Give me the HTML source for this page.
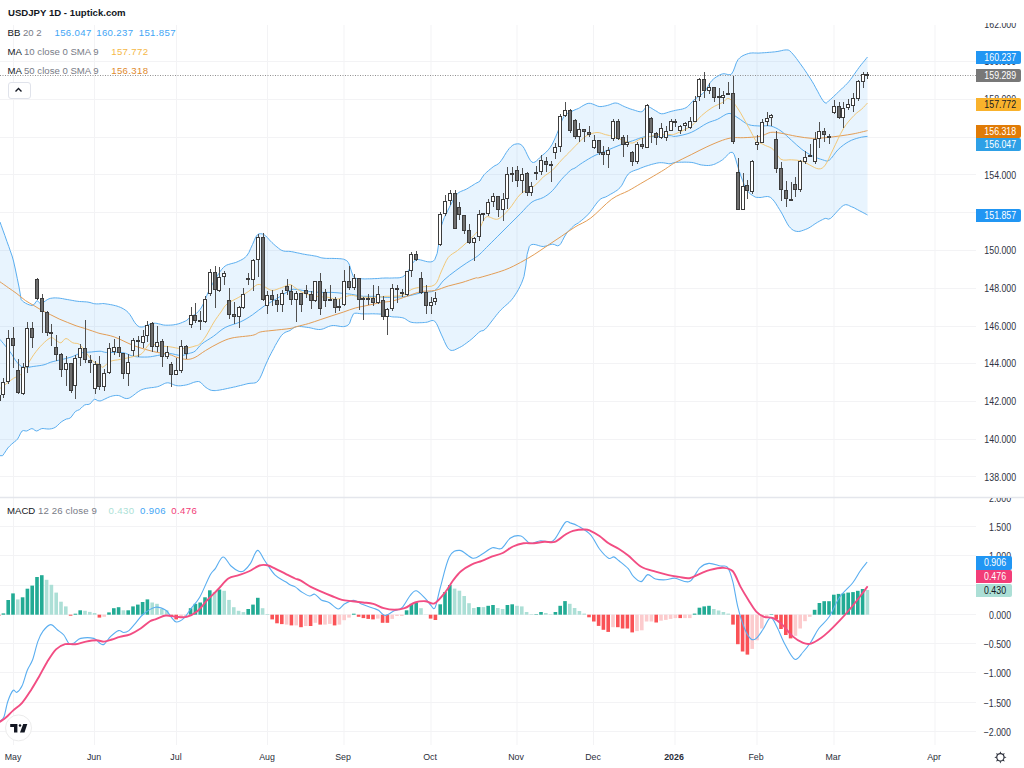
<!DOCTYPE html><html><head><meta charset="utf-8"><style>
html,body{margin:0;padding:0;background:#fff;width:1024px;height:768px;overflow:hidden}
body{position:relative;font-family:"Liberation Sans",sans-serif}
svg{position:absolute;left:0;top:0}
.t{position:absolute;white-space:nowrap;line-height:1}
</style></head><body>
<svg width="1024" height="768" viewBox="0 0 1024 768">
<line x1="13.5" y1="25" x2="13.5" y2="745" stroke="#f3f3f5" stroke-width="1"/>
<line x1="94.5" y1="25" x2="94.5" y2="745" stroke="#f3f3f5" stroke-width="1"/>
<line x1="176.5" y1="25" x2="176.5" y2="745" stroke="#f3f3f5" stroke-width="1"/>
<line x1="267.5" y1="25" x2="267.5" y2="745" stroke="#f3f3f5" stroke-width="1"/>
<line x1="344" y1="25" x2="344" y2="745" stroke="#f3f3f5" stroke-width="1"/>
<line x1="431" y1="25" x2="431" y2="745" stroke="#f3f3f5" stroke-width="1"/>
<line x1="517" y1="25" x2="517" y2="745" stroke="#f3f3f5" stroke-width="1"/>
<line x1="593.5" y1="25" x2="593.5" y2="745" stroke="#f3f3f5" stroke-width="1"/>
<line x1="675" y1="25" x2="675" y2="745" stroke="#f3f3f5" stroke-width="1"/>
<line x1="757" y1="25" x2="757" y2="745" stroke="#f3f3f5" stroke-width="1"/>
<line x1="834" y1="25" x2="834" y2="745" stroke="#f3f3f5" stroke-width="1"/>
<line x1="935" y1="25" x2="935" y2="745" stroke="#f3f3f5" stroke-width="1"/>
<line x1="0" y1="476.5" x2="976" y2="476.5" stroke="#f3f3f5" stroke-width="1"/>
<line x1="0" y1="439.5" x2="976" y2="439.5" stroke="#f3f3f5" stroke-width="1"/>
<line x1="0" y1="401.5" x2="976" y2="401.5" stroke="#f3f3f5" stroke-width="1"/>
<line x1="0" y1="363.5" x2="976" y2="363.5" stroke="#f3f3f5" stroke-width="1"/>
<line x1="0" y1="326.5" x2="976" y2="326.5" stroke="#f3f3f5" stroke-width="1"/>
<line x1="0" y1="288.5" x2="976" y2="288.5" stroke="#f3f3f5" stroke-width="1"/>
<line x1="0" y1="250.5" x2="976" y2="250.5" stroke="#f3f3f5" stroke-width="1"/>
<line x1="0" y1="212.5" x2="976" y2="212.5" stroke="#f3f3f5" stroke-width="1"/>
<line x1="0" y1="174.5" x2="976" y2="174.5" stroke="#f3f3f5" stroke-width="1"/>
<line x1="0" y1="137.5" x2="976" y2="137.5" stroke="#f3f3f5" stroke-width="1"/>
<line x1="0" y1="99.5" x2="976" y2="99.5" stroke="#f3f3f5" stroke-width="1"/>
<line x1="0" y1="61.5" x2="976" y2="61.5" stroke="#f3f3f5" stroke-width="1"/>
<line x1="0" y1="731.5" x2="976" y2="731.5" stroke="#f3f3f5" stroke-width="1"/>
<line x1="0" y1="702.5" x2="976" y2="702.5" stroke="#f3f3f5" stroke-width="1"/>
<line x1="0" y1="672.5" x2="976" y2="672.5" stroke="#f3f3f5" stroke-width="1"/>
<line x1="0" y1="643.5" x2="976" y2="643.5" stroke="#f3f3f5" stroke-width="1"/>
<line x1="0" y1="614.5" x2="976" y2="614.5" stroke="#f3f3f5" stroke-width="1"/>
<line x1="0" y1="585.5" x2="976" y2="585.5" stroke="#f3f3f5" stroke-width="1"/>
<line x1="0" y1="555.5" x2="976" y2="555.5" stroke="#f3f3f5" stroke-width="1"/>
<line x1="0" y1="526.5" x2="976" y2="526.5" stroke="#f3f3f5" stroke-width="1"/>
<line x1="0" y1="497.5" x2="976" y2="497.5" stroke="#f3f3f5" stroke-width="1"/>
<defs><clipPath id="cp"><rect x="0" y="0" width="976" height="497"/></clipPath>
<clipPath id="cm"><rect x="0" y="498" width="976" height="247"/></clipPath></defs>
<g clip-path="url(#cp)">
<path d="M0.0,222.0 L1.2,225.3 L2.9,230.1 L4.9,235.6 L6.9,241.4 L8.8,246.6 L10.2,250.6 L12.1,256.0 L13.5,261.0 L15.3,269.0 L17.3,278.7 L19.0,287.0 L21.2,299.6 L22.4,300.9 L23.8,302.1 L25.6,303.2 L27.4,304.1 L29.2,304.8 L30.8,305.3 L32.1,305.5 L34.3,304.3 L35.8,302.0 L37.2,300.5 L38.7,302.2 L40.6,303.8 L42.0,303.3 L43.6,302.2 L45.4,300.9 L47.2,299.7 L49.0,298.8 L50.7,298.3 L52.3,298.1 L54.0,297.9 L55.7,297.9 L57.5,298.0 L59.1,298.1 L60.8,298.4 L62.5,298.6 L64.2,299.0 L66.0,299.3 L67.7,299.6 L69.4,299.9 L71.1,300.2 L72.8,300.5 L74.4,300.8 L76.1,301.1 L77.8,301.3 L79.5,301.5 L81.3,301.6 L83.1,301.7 L84.8,301.8 L86.5,301.9 L88.0,302.1 L90.0,302.5 L91.7,303.0 L93.3,303.5 L94.8,303.8 L96.7,303.9 L98.4,303.9 L100.0,303.8 L101.3,303.7 L102.6,303.5 L104.8,303.7 L105.9,303.9 L107.3,304.1 L108.8,304.3 L110.4,304.6 L112.1,304.9 L113.8,305.3 L115.5,305.7 L117.0,306.1 L118.4,306.6 L120.3,307.3 L122.0,308.1 L123.7,309.0 L125.2,310.0 L126.7,311.1 L128.2,312.5 L129.9,314.6 L131.6,317.2 L133.1,319.9 L134.6,322.3 L136.0,324.2 L137.9,326.0 L139.6,326.9 L141.9,327.0 L143.3,326.8 L144.8,326.2 L146.5,325.5 L148.3,324.8 L150.1,324.1 L151.9,323.5 L153.6,323.2 L155.3,323.2 L156.9,323.4 L158.6,323.8 L160.3,324.2 L162.0,324.7 L163.6,325.0 L165.3,325.2 L167.0,325.2 L168.7,325.2 L170.4,325.1 L172.1,325.0 L173.8,324.8 L175.4,324.5 L177.0,324.2 L178.8,323.7 L180.6,323.1 L182.4,322.4 L184.0,321.7 L185.5,321.0 L186.8,320.3 L189.1,318.2 L190.7,316.4 L192.7,315.7 L195.0,314.5 L196.5,313.3 L198.1,311.7 L199.9,309.7 L201.7,307.0 L203.2,304.1 L204.7,300.5 L206.3,296.7 L207.9,292.9 L209.5,289.5 L211.1,286.5 L212.6,283.6 L214.2,280.8 L215.7,278.2 L217.3,275.8 L218.8,273.5 L220.3,271.3 L221.8,269.3 L223.4,267.5 L225.2,266.0 L226.7,265.1 L228.3,264.5 L230.1,264.0 L231.8,263.5 L233.6,263.1 L235.3,262.6 L236.9,262.0 L238.7,261.2 L240.4,260.4 L242.1,259.5 L243.7,258.5 L245.2,257.3 L246.6,256.0 L248.9,252.5 L250.7,248.4 L252.5,244.5 L254.1,240.8 L255.7,237.2 L257.4,234.8 L258.9,233.9 L260.6,233.7 L262.4,234.0 L264.2,234.8 L265.7,235.9 L267.2,237.4 L268.7,239.1 L270.3,240.9 L272.0,242.6 L273.5,244.0 L275.2,245.5 L276.9,246.9 L278.6,248.3 L280.2,249.5 L281.8,250.4 L283.6,251.0 L285.4,251.3 L287.0,251.3 L288.6,251.3 L290.0,251.4 L291.7,251.7 L293.0,251.9 L294.8,252.3 L296.1,252.6 L297.6,252.9 L299.2,253.2 L300.9,253.6 L302.7,254.0 L304.5,254.3 L306.1,254.6 L307.8,254.9 L309.6,255.1 L311.4,255.4 L313.1,255.7 L314.8,256.0 L316.2,256.2 L317.9,256.7 L319.1,257.1 L320.2,257.5 L321.8,257.9 L324.0,258.2 L325.2,258.3 L326.5,258.4 L328.0,258.4 L329.6,258.4 L331.3,258.4 L333.0,258.4 L334.8,258.5 L336.5,258.5 L338.2,258.6 L339.8,258.7 L341.2,258.8 L342.5,259.0 L343.6,259.2 L346.7,260.6 L348.2,262.4 L349.5,265.0 L351.3,271.1 L353.4,276.8 L354.6,277.8 L356.1,278.4 L357.6,278.6 L359.3,278.6 L361.2,278.7 L362.7,278.8 L364.2,278.9 L365.9,278.9 L367.7,278.8 L369.4,278.8 L371.2,278.8 L372.9,278.7 L374.4,278.6 L376.0,278.6 L377.7,278.5 L379.3,278.4 L380.9,278.2 L382.4,278.1 L383.8,278.1 L385.0,278.0 L386.9,278.0 L388.2,278.0 L389.6,278.1 L391.4,278.0 L392.8,278.0 L394.4,277.9 L396.2,277.9 L398.0,277.9 L399.7,277.7 L401.4,277.3 L402.8,276.8 L404.8,275.3 L406.5,273.3 L408.0,271.0 L409.6,268.8 L411.0,266.4 L412.3,263.7 L413.9,261.4 L416.4,259.7 L417.6,259.5 L418.9,259.6 L420.4,259.9 L422.1,260.3 L423.8,260.8 L425.5,261.3 L427.3,261.7 L429.0,261.9 L430.7,261.9 L432.2,261.6 L433.5,260.9 L434.7,259.7 L437.2,253.3 L438.7,243.9 L439.9,234.0 L441.5,225.6 L442.9,221.3 L444.4,217.4 L446.1,213.9 L447.7,210.7 L449.2,207.7 L450.6,205.0 L452.4,201.4 L454.0,198.4 L455.6,195.8 L457.4,193.7 L458.8,192.5 L460.3,191.7 L461.9,191.0 L463.5,190.4 L465.0,189.8 L466.6,189.0 L468.2,188.1 L469.8,187.1 L471.5,186.1 L473.0,185.1 L474.5,184.2 L475.7,183.4 L478.2,182.2 L480.0,181.0 L481.7,178.2 L484.1,174.7 L485.4,173.4 L486.8,172.1 L488.5,170.6 L490.2,169.2 L491.8,167.9 L493.2,166.8 L495.0,165.6 L496.6,164.9 L498.2,163.9 L500.0,162.2 L501.4,160.3 L503.0,158.0 L504.6,155.3 L506.2,152.7 L507.8,150.4 L509.2,148.5 L511.1,146.6 L512.8,145.2 L514.4,144.4 L516.0,144.0 L517.6,143.8 L519.2,143.9 L520.9,144.6 L522.8,146.3 L524.2,148.4 L525.7,151.4 L527.3,154.8 L528.9,158.0 L530.5,160.6 L532.0,162.2 L533.5,162.5 L535.0,162.0 L536.5,160.9 L538.0,159.5 L539.5,157.9 L541.0,156.5 L542.5,155.2 L544.1,153.9 L545.7,152.5 L547.3,150.9 L548.8,149.2 L550.2,147.4 L552.1,144.4 L553.8,141.0 L555.4,137.5 L557.0,133.7 L558.7,129.4 L560.4,124.6 L562.1,120.1 L563.8,116.6 L565.6,114.5 L567.4,113.4 L569.2,112.7 L570.7,112.0 L573.1,110.7 L575.0,109.8 L576.3,109.3 L578.3,108.5 L579.6,107.8 L581.3,106.7 L583.1,105.6 L585.0,104.6 L586.9,103.7 L588.8,103.3 L590.5,103.4 L592.3,103.9 L594.1,104.6 L595.9,105.4 L597.6,106.1 L599.2,106.5 L601.0,106.6 L602.7,106.4 L604.3,106.1 L605.9,105.8 L607.5,105.4 L609.2,104.9 L610.8,104.3 L612.5,103.6 L614.1,103.1 L615.8,103.0 L617.5,103.3 L619.2,104.0 L620.8,104.8 L622.5,105.7 L624.2,106.5 L625.8,107.2 L627.5,107.8 L629.1,108.5 L630.8,109.1 L632.5,109.6 L634.1,110.1 L635.7,110.6 L637.4,111.2 L639.0,111.6 L640.6,111.8 L641.9,111.7 L643.8,110.2 L645.3,107.8 L647.1,106.5 L648.6,106.7 L650.3,107.5 L652.1,108.6 L653.8,109.7 L655.4,110.6 L657.1,111.6 L658.5,112.6 L660.0,113.4 L661.7,113.8 L663.3,113.7 L665.0,113.3 L666.8,112.7 L668.5,112.2 L670.0,111.7 L671.9,111.2 L673.5,110.8 L675.6,110.3 L677.1,110.0 L678.8,109.7 L680.7,109.4 L682.5,109.0 L684.4,108.4 L686.0,107.7 L687.7,106.5 L689.2,105.0 L690.7,103.3 L692.2,101.6 L693.9,100.0 L695.5,98.7 L697.3,97.5 L699.1,96.2 L700.9,94.9 L702.7,93.5 L704.3,92.0 L706.0,89.8 L707.4,87.4 L708.8,84.8 L710.3,82.5 L712.0,80.4 L713.4,79.1 L714.8,78.0 L716.4,76.9 L718.0,76.0 L719.5,75.1 L721.0,74.4 L722.5,73.9 L724.1,73.7 L725.7,74.0 L727.3,74.4 L728.8,74.7 L730.2,74.7 L731.6,73.9 L733.3,71.1 L734.8,67.1 L736.3,62.8 L738.1,59.5 L739.6,58.0 L741.2,56.7 L743.0,55.6 L744.8,54.8 L746.7,54.1 L748.5,53.5 L750.0,53.1 L751.6,53.0 L753.1,52.9 L754.7,53.0 L756.4,53.0 L758.1,53.1 L760.0,53.0 L761.4,52.9 L763.0,52.8 L764.6,52.7 L766.3,52.6 L768.0,52.4 L769.7,52.3 L771.3,52.2 L772.9,52.0 L774.4,51.9 L775.8,51.7 L777.9,51.4 L779.9,51.0 L781.7,50.6 L783.4,50.2 L784.9,50.0 L786.2,49.9 L788.2,50.0 L789.6,50.7 L791.5,52.5 L792.9,54.1 L794.6,56.1 L796.4,58.4 L798.2,60.9 L800.1,63.5 L801.9,66.0 L803.6,68.4 L805.3,70.9 L807.0,73.4 L808.7,76.0 L810.5,78.8 L812.3,81.7 L814.0,84.6 L815.7,87.8 L817.6,91.2 L819.4,94.6 L821.1,97.7 L822.7,100.2 L824.0,102.0 L826.1,103.3 L827.4,102.2 L829.2,100.4 L830.5,99.4 L831.9,98.2 L833.4,96.7 L835.0,95.2 L836.7,93.6 L838.3,92.0 L840.0,90.4 L841.7,88.9 L843.4,87.2 L845.2,85.5 L847.0,83.7 L848.8,81.7 L850.5,79.5 L852.3,77.1 L854.1,74.5 L855.9,71.9 L857.6,69.5 L859.2,67.3 L861.1,64.8 L863.1,62.4 L864.9,60.2 L866.4,58.3 L867.5,57.0 L867.5,215.0 L866.4,214.4 L864.8,213.5 L862.9,212.5 L861.0,211.5 L859.2,210.6 L857.6,209.7 L856.0,208.9 L854.5,208.0 L853.0,207.3 L851.4,206.7 L849.9,206.0 L848.5,205.3 L847.0,204.8 L845.4,204.7 L843.5,205.4 L842.1,206.4 L840.4,207.9 L838.7,209.8 L836.8,211.8 L835.0,213.8 L833.3,215.7 L831.8,217.3 L830.5,218.4 L828.3,219.2 L826.9,218.6 L825.3,218.4 L823.9,218.9 L822.5,219.6 L820.9,220.4 L819.3,221.3 L817.5,222.3 L815.9,223.3 L814.2,224.4 L812.5,225.6 L810.7,226.8 L808.9,227.9 L807.1,228.8 L805.3,229.5 L803.5,230.2 L801.7,230.8 L800.0,231.3 L798.3,231.5 L796.7,231.4 L795.0,231.0 L793.4,230.3 L791.9,229.3 L790.4,227.9 L788.9,226.2 L787.4,223.9 L785.9,221.1 L784.3,218.1 L782.7,214.9 L781.0,211.9 L779.4,209.3 L777.7,206.6 L776.0,203.8 L774.2,201.2 L772.4,199.1 L770.6,197.5 L769.1,196.8 L767.5,196.5 L765.8,196.6 L764.2,196.8 L762.7,197.2 L761.3,197.4 L760.0,197.5 L758.2,197.4 L756.7,197.4 L755.3,197.1 L753.8,196.2 L752.3,195.3 L750.7,194.2 L749.1,192.8 L747.5,190.9 L745.9,188.4 L744.3,184.9 L742.6,180.6 L740.9,176.0 L739.4,171.5 L738.1,167.6 L735.9,159.9 L734.2,154.6 L732.5,152.3 L730.3,152.5 L729.0,153.4 L727.6,154.8 L726.0,156.6 L724.3,158.3 L722.5,159.8 L721.1,160.7 L719.7,161.6 L718.2,162.4 L716.6,163.2 L715.1,164.0 L713.5,164.5 L712.0,165.0 L710.3,165.3 L708.6,165.5 L706.8,165.5 L705.1,165.4 L703.4,165.2 L701.7,165.0 L700.0,164.7 L698.4,164.2 L696.8,163.7 L695.1,163.2 L693.3,162.7 L691.2,162.4 L689.9,162.3 L688.3,162.2 L686.6,162.2 L684.9,162.1 L683.1,162.2 L681.4,162.2 L679.7,162.2 L678.2,162.3 L676.8,162.3 L675.6,162.4 L673.2,162.8 L671.9,163.4 L670.0,163.8 L668.6,163.7 L667.0,163.4 L665.2,163.1 L663.4,162.8 L661.5,162.7 L659.6,162.7 L658.1,162.9 L656.5,163.2 L654.9,163.6 L653.2,164.0 L651.6,164.4 L650.0,164.9 L648.5,165.4 L647.1,165.8 L645.2,166.4 L643.6,167.0 L642.0,167.6 L640.5,168.2 L638.8,169.0 L637.1,169.6 L635.3,170.2 L633.5,170.8 L631.7,171.6 L629.9,172.6 L628.3,174.0 L626.6,176.3 L625.0,179.1 L623.5,182.2 L621.9,185.2 L620.0,187.7 L618.6,189.0 L617.1,190.3 L615.4,191.4 L613.8,192.4 L612.1,193.4 L610.4,194.3 L608.9,195.2 L607.5,196.0 L605.6,197.0 L604.0,197.5 L602.5,198.0 L600.9,198.8 L599.2,200.2 L597.6,202.0 L595.9,204.2 L594.1,206.7 L592.3,209.2 L590.5,211.6 L588.8,213.8 L586.9,215.6 L585.0,217.4 L583.1,219.1 L581.3,220.6 L579.6,221.9 L578.3,223.0 L576.6,223.9 L575.0,224.8 L573.5,226.1 L571.7,227.8 L569.8,229.8 L567.8,231.9 L566.1,234.0 L564.3,237.0 L562.6,240.3 L561.0,243.3 L559.3,245.3 L557.6,245.8 L556.0,245.3 L554.3,244.5 L552.4,244.2 L551.1,244.4 L549.7,244.8 L548.3,245.3 L546.8,245.8 L545.1,246.2 L543.3,246.5 L541.9,246.4 L540.4,246.1 L538.7,245.6 L536.9,245.0 L535.2,244.6 L533.5,244.4 L531.9,244.5 L530.5,245.2 L529.3,246.5 L527.1,254.6 L525.8,266.0 L524.0,276.4 L522.8,279.9 L521.5,283.3 L520.0,286.4 L518.5,289.4 L516.9,292.2 L515.2,294.8 L513.5,297.4 L512.1,299.2 L510.6,300.9 L509.1,302.5 L507.5,303.9 L505.9,305.3 L504.3,306.7 L502.7,308.2 L501.1,309.7 L499.5,311.4 L497.9,313.3 L496.2,315.4 L494.5,317.6 L492.8,319.8 L491.1,322.0 L489.5,324.1 L488.0,326.0 L486.6,327.7 L485.4,329.0 L483.1,330.7 L481.7,330.8 L480.0,331.5 L478.5,332.7 L476.8,334.3 L475.0,336.0 L473.1,337.8 L471.1,339.5 L469.6,340.7 L468.0,341.9 L466.3,343.2 L464.6,344.4 L462.9,345.6 L461.3,346.6 L459.7,347.4 L457.9,348.3 L456.1,349.2 L454.4,350.0 L452.7,350.4 L451.1,350.4 L449.5,349.7 L447.7,347.8 L446.1,345.0 L444.5,341.6 L443.0,338.1 L441.5,334.9 L439.8,331.0 L438.2,327.1 L436.5,323.6 L434.7,321.2 L433.4,320.6 L432.0,320.5 L430.6,320.9 L429.1,321.5 L427.4,322.1 L425.6,322.4 L424.3,322.5 L422.8,322.6 L421.2,322.7 L419.6,322.7 L417.9,322.8 L416.3,322.8 L414.7,322.7 L413.2,322.6 L411.9,322.4 L410.1,321.9 L408.6,321.1 L407.2,320.2 L405.8,319.2 L404.4,318.4 L402.8,317.8 L401.2,317.5 L399.6,317.3 L397.8,317.1 L396.1,317.0 L394.4,317.0 L392.8,316.9 L391.4,316.7 L389.5,316.3 L388.0,315.7 L386.6,315.2 L385.0,314.8 L383.6,314.5 L382.1,314.3 L380.6,314.1 L378.8,314.0 L376.8,313.9 L375.5,313.9 L374.0,313.8 L372.5,313.8 L370.9,313.8 L369.2,313.9 L367.6,313.9 L366.0,313.9 L364.5,313.9 L363.1,313.9 L361.2,313.8 L359.4,313.5 L357.6,313.3 L356.1,313.2 L354.6,313.3 L353.4,313.9 L351.2,318.6 L349.5,323.6 L347.9,325.2 L346.1,326.1 L343.6,326.6 L342.2,326.6 L340.7,326.5 L339.0,326.2 L337.2,325.9 L335.4,325.6 L333.6,325.5 L331.9,325.6 L330.2,326.0 L328.6,326.5 L326.9,327.2 L325.2,328.0 L323.6,328.7 L321.9,329.2 L320.2,329.5 L318.5,329.5 L316.8,329.3 L315.1,329.0 L313.5,328.6 L311.8,328.2 L310.1,327.8 L308.4,327.5 L306.7,327.3 L304.9,327.0 L303.1,326.8 L301.4,326.6 L299.7,326.5 L298.1,326.5 L296.7,326.6 L294.7,327.2 L293.1,328.2 L291.7,329.3 L290.0,330.5 L288.4,331.2 L286.8,331.7 L285.1,332.4 L283.4,333.6 L281.5,335.4 L280.1,337.4 L278.5,339.9 L276.9,342.7 L275.2,345.6 L273.7,348.6 L272.2,351.3 L271.0,353.6 L269.0,357.4 L267.7,360.3 L266.0,364.0 L264.6,367.2 L263.1,371.0 L261.5,374.9 L259.8,378.4 L258.0,381.0 L256.5,382.3 L255.0,382.9 L253.5,383.1 L251.9,383.2 L250.0,383.3 L248.0,383.6 L246.7,383.9 L245.2,384.3 L243.7,384.7 L242.1,385.1 L240.5,385.5 L238.8,385.9 L237.1,386.3 L235.4,386.8 L233.7,387.1 L232.0,387.5 L230.5,387.8 L229.0,388.1 L227.4,388.5 L225.8,388.8 L224.1,389.2 L222.5,389.5 L220.9,389.8 L219.3,390.1 L217.8,390.3 L216.4,390.5 L215.2,390.6 L214.0,390.6 L211.7,390.4 L210.0,389.9 L208.6,389.2 L207.3,388.4 L206.0,387.5 L204.3,386.2 L202.8,384.6 L201.4,383.0 L200.0,382.0 L198.4,381.5 L196.9,381.6 L195.0,382.0 L193.6,382.4 L192.0,383.0 L190.3,383.7 L188.6,384.3 L186.8,384.8 L185.3,385.1 L183.6,385.4 L182.0,385.6 L180.3,385.8 L178.6,385.8 L177.0,385.7 L175.4,385.4 L173.8,384.8 L172.2,384.1 L170.5,383.4 L168.9,382.9 L167.3,382.8 L165.7,383.1 L164.3,383.6 L162.8,384.4 L161.2,385.2 L159.5,386.0 L157.5,386.7 L156.2,387.0 L154.7,387.2 L153.2,387.5 L151.6,387.6 L149.9,387.8 L148.3,388.1 L146.6,388.3 L145.0,388.7 L143.4,389.1 L141.9,389.6 L140.3,390.4 L138.7,391.4 L137.0,392.5 L135.5,393.7 L133.9,395.0 L132.4,396.1 L130.9,397.1 L129.5,397.9 L128.2,398.4 L126.3,398.5 L124.6,398.2 L122.9,397.4 L121.4,396.6 L119.9,395.9 L118.4,395.5 L116.8,395.4 L115.3,395.5 L113.8,395.7 L112.3,396.0 L110.6,396.5 L109.2,397.0 L107.6,397.7 L106.0,398.5 L104.3,399.3 L102.7,400.1 L101.3,400.7 L100.0,401.0 L97.7,400.7 L96.0,399.6 L94.4,399.3 L92.8,400.5 L91.3,402.5 L89.8,404.0 L88.1,404.5 L86.4,404.5 L84.6,405.0 L82.8,406.4 L81.0,408.2 L79.4,409.7 L77.5,410.4 L75.5,411.4 L73.8,413.4 L72.0,416.0 L70.3,418.0 L68.3,418.7 L66.4,419.0 L64.8,419.8 L63.0,420.8 L61.2,422.0 L59.3,423.7 L57.3,425.7 L55.3,427.3 L53.4,428.2 L51.6,428.7 L49.5,429.0 L48.0,429.0 L46.4,428.9 L44.7,428.7 L43.1,428.5 L41.7,428.6 L39.8,429.4 L38.1,430.5 L36.5,431.0 L34.9,430.4 L33.5,429.2 L31.9,428.6 L30.2,429.1 L28.4,430.2 L26.7,431.0 L25.1,430.9 L23.6,430.5 L22.1,431.0 L20.6,433.2 L19.1,436.3 L17.6,439.0 L16.1,440.6 L14.6,441.7 L13.0,443.0 L11.3,444.5 L9.6,446.1 L7.8,448.0 L6.0,450.7 L4.1,453.6 L2.6,455.7 L0.0,455.7 Z" fill="#2196f3" fill-opacity="0.1" stroke="none"/>
<path d="M0.0,222.0 L1.2,225.3 L2.9,230.1 L4.9,235.6 L6.9,241.4 L8.8,246.6 L10.2,250.6 L12.1,256.0 L13.5,261.0 L15.3,269.0 L17.3,278.7 L19.0,287.0 L21.2,299.6 L22.4,300.9 L23.8,302.1 L25.6,303.2 L27.4,304.1 L29.2,304.8 L30.8,305.3 L32.1,305.5 L34.3,304.3 L35.8,302.0 L37.2,300.5 L38.7,302.2 L40.6,303.8 L42.0,303.3 L43.6,302.2 L45.4,300.9 L47.2,299.7 L49.0,298.8 L50.7,298.3 L52.3,298.1 L54.0,297.9 L55.7,297.9 L57.5,298.0 L59.1,298.1 L60.8,298.4 L62.5,298.6 L64.2,299.0 L66.0,299.3 L67.7,299.6 L69.4,299.9 L71.1,300.2 L72.8,300.5 L74.4,300.8 L76.1,301.1 L77.8,301.3 L79.5,301.5 L81.3,301.6 L83.1,301.7 L84.8,301.8 L86.5,301.9 L88.0,302.1 L90.0,302.5 L91.7,303.0 L93.3,303.5 L94.8,303.8 L96.7,303.9 L98.4,303.9 L100.0,303.8 L101.3,303.7 L102.6,303.5 L104.8,303.7 L105.9,303.9 L107.3,304.1 L108.8,304.3 L110.4,304.6 L112.1,304.9 L113.8,305.3 L115.5,305.7 L117.0,306.1 L118.4,306.6 L120.3,307.3 L122.0,308.1 L123.7,309.0 L125.2,310.0 L126.7,311.1 L128.2,312.5 L129.9,314.6 L131.6,317.2 L133.1,319.9 L134.6,322.3 L136.0,324.2 L137.9,326.0 L139.6,326.9 L141.9,327.0 L143.3,326.8 L144.8,326.2 L146.5,325.5 L148.3,324.8 L150.1,324.1 L151.9,323.5 L153.6,323.2 L155.3,323.2 L156.9,323.4 L158.6,323.8 L160.3,324.2 L162.0,324.7 L163.6,325.0 L165.3,325.2 L167.0,325.2 L168.7,325.2 L170.4,325.1 L172.1,325.0 L173.8,324.8 L175.4,324.5 L177.0,324.2 L178.8,323.7 L180.6,323.1 L182.4,322.4 L184.0,321.7 L185.5,321.0 L186.8,320.3 L189.1,318.2 L190.7,316.4 L192.7,315.7 L195.0,314.5 L196.5,313.3 L198.1,311.7 L199.9,309.7 L201.7,307.0 L203.2,304.1 L204.7,300.5 L206.3,296.7 L207.9,292.9 L209.5,289.5 L211.1,286.5 L212.6,283.6 L214.2,280.8 L215.7,278.2 L217.3,275.8 L218.8,273.5 L220.3,271.3 L221.8,269.3 L223.4,267.5 L225.2,266.0 L226.7,265.1 L228.3,264.5 L230.1,264.0 L231.8,263.5 L233.6,263.1 L235.3,262.6 L236.9,262.0 L238.7,261.2 L240.4,260.4 L242.1,259.5 L243.7,258.5 L245.2,257.3 L246.6,256.0 L248.9,252.5 L250.7,248.4 L252.5,244.5 L254.1,240.8 L255.7,237.2 L257.4,234.8 L258.9,233.9 L260.6,233.7 L262.4,234.0 L264.2,234.8 L265.7,235.9 L267.2,237.4 L268.7,239.1 L270.3,240.9 L272.0,242.6 L273.5,244.0 L275.2,245.5 L276.9,246.9 L278.6,248.3 L280.2,249.5 L281.8,250.4 L283.6,251.0 L285.4,251.3 L287.0,251.3 L288.6,251.3 L290.0,251.4 L291.7,251.7 L293.0,251.9 L294.8,252.3 L296.1,252.6 L297.6,252.9 L299.2,253.2 L300.9,253.6 L302.7,254.0 L304.5,254.3 L306.1,254.6 L307.8,254.9 L309.6,255.1 L311.4,255.4 L313.1,255.7 L314.8,256.0 L316.2,256.2 L317.9,256.7 L319.1,257.1 L320.2,257.5 L321.8,257.9 L324.0,258.2 L325.2,258.3 L326.5,258.4 L328.0,258.4 L329.6,258.4 L331.3,258.4 L333.0,258.4 L334.8,258.5 L336.5,258.5 L338.2,258.6 L339.8,258.7 L341.2,258.8 L342.5,259.0 L343.6,259.2 L346.7,260.6 L348.2,262.4 L349.5,265.0 L351.3,271.1 L353.4,276.8 L354.6,277.8 L356.1,278.4 L357.6,278.6 L359.3,278.6 L361.2,278.7 L362.7,278.8 L364.2,278.9 L365.9,278.9 L367.7,278.8 L369.4,278.8 L371.2,278.8 L372.9,278.7 L374.4,278.6 L376.0,278.6 L377.7,278.5 L379.3,278.4 L380.9,278.2 L382.4,278.1 L383.8,278.1 L385.0,278.0 L386.9,278.0 L388.2,278.0 L389.6,278.1 L391.4,278.0 L392.8,278.0 L394.4,277.9 L396.2,277.9 L398.0,277.9 L399.7,277.7 L401.4,277.3 L402.8,276.8 L404.8,275.3 L406.5,273.3 L408.0,271.0 L409.6,268.8 L411.0,266.4 L412.3,263.7 L413.9,261.4 L416.4,259.7 L417.6,259.5 L418.9,259.6 L420.4,259.9 L422.1,260.3 L423.8,260.8 L425.5,261.3 L427.3,261.7 L429.0,261.9 L430.7,261.9 L432.2,261.6 L433.5,260.9 L434.7,259.7 L437.2,253.3 L438.7,243.9 L439.9,234.0 L441.5,225.6 L442.9,221.3 L444.4,217.4 L446.1,213.9 L447.7,210.7 L449.2,207.7 L450.6,205.0 L452.4,201.4 L454.0,198.4 L455.6,195.8 L457.4,193.7 L458.8,192.5 L460.3,191.7 L461.9,191.0 L463.5,190.4 L465.0,189.8 L466.6,189.0 L468.2,188.1 L469.8,187.1 L471.5,186.1 L473.0,185.1 L474.5,184.2 L475.7,183.4 L478.2,182.2 L480.0,181.0 L481.7,178.2 L484.1,174.7 L485.4,173.4 L486.8,172.1 L488.5,170.6 L490.2,169.2 L491.8,167.9 L493.2,166.8 L495.0,165.6 L496.6,164.9 L498.2,163.9 L500.0,162.2 L501.4,160.3 L503.0,158.0 L504.6,155.3 L506.2,152.7 L507.8,150.4 L509.2,148.5 L511.1,146.6 L512.8,145.2 L514.4,144.4 L516.0,144.0 L517.6,143.8 L519.2,143.9 L520.9,144.6 L522.8,146.3 L524.2,148.4 L525.7,151.4 L527.3,154.8 L528.9,158.0 L530.5,160.6 L532.0,162.2 L533.5,162.5 L535.0,162.0 L536.5,160.9 L538.0,159.5 L539.5,157.9 L541.0,156.5 L542.5,155.2 L544.1,153.9 L545.7,152.5 L547.3,150.9 L548.8,149.2 L550.2,147.4 L552.1,144.4 L553.8,141.0 L555.4,137.5 L557.0,133.7 L558.7,129.4 L560.4,124.6 L562.1,120.1 L563.8,116.6 L565.6,114.5 L567.4,113.4 L569.2,112.7 L570.7,112.0 L573.1,110.7 L575.0,109.8 L576.3,109.3 L578.3,108.5 L579.6,107.8 L581.3,106.7 L583.1,105.6 L585.0,104.6 L586.9,103.7 L588.8,103.3 L590.5,103.4 L592.3,103.9 L594.1,104.6 L595.9,105.4 L597.6,106.1 L599.2,106.5 L601.0,106.6 L602.7,106.4 L604.3,106.1 L605.9,105.8 L607.5,105.4 L609.2,104.9 L610.8,104.3 L612.5,103.6 L614.1,103.1 L615.8,103.0 L617.5,103.3 L619.2,104.0 L620.8,104.8 L622.5,105.7 L624.2,106.5 L625.8,107.2 L627.5,107.8 L629.1,108.5 L630.8,109.1 L632.5,109.6 L634.1,110.1 L635.7,110.6 L637.4,111.2 L639.0,111.6 L640.6,111.8 L641.9,111.7 L643.8,110.2 L645.3,107.8 L647.1,106.5 L648.6,106.7 L650.3,107.5 L652.1,108.6 L653.8,109.7 L655.4,110.6 L657.1,111.6 L658.5,112.6 L660.0,113.4 L661.7,113.8 L663.3,113.7 L665.0,113.3 L666.8,112.7 L668.5,112.2 L670.0,111.7 L671.9,111.2 L673.5,110.8 L675.6,110.3 L677.1,110.0 L678.8,109.7 L680.7,109.4 L682.5,109.0 L684.4,108.4 L686.0,107.7 L687.7,106.5 L689.2,105.0 L690.7,103.3 L692.2,101.6 L693.9,100.0 L695.5,98.7 L697.3,97.5 L699.1,96.2 L700.9,94.9 L702.7,93.5 L704.3,92.0 L706.0,89.8 L707.4,87.4 L708.8,84.8 L710.3,82.5 L712.0,80.4 L713.4,79.1 L714.8,78.0 L716.4,76.9 L718.0,76.0 L719.5,75.1 L721.0,74.4 L722.5,73.9 L724.1,73.7 L725.7,74.0 L727.3,74.4 L728.8,74.7 L730.2,74.7 L731.6,73.9 L733.3,71.1 L734.8,67.1 L736.3,62.8 L738.1,59.5 L739.6,58.0 L741.2,56.7 L743.0,55.6 L744.8,54.8 L746.7,54.1 L748.5,53.5 L750.0,53.1 L751.6,53.0 L753.1,52.9 L754.7,53.0 L756.4,53.0 L758.1,53.1 L760.0,53.0 L761.4,52.9 L763.0,52.8 L764.6,52.7 L766.3,52.6 L768.0,52.4 L769.7,52.3 L771.3,52.2 L772.9,52.0 L774.4,51.9 L775.8,51.7 L777.9,51.4 L779.9,51.0 L781.7,50.6 L783.4,50.2 L784.9,50.0 L786.2,49.9 L788.2,50.0 L789.6,50.7 L791.5,52.5 L792.9,54.1 L794.6,56.1 L796.4,58.4 L798.2,60.9 L800.1,63.5 L801.9,66.0 L803.6,68.4 L805.3,70.9 L807.0,73.4 L808.7,76.0 L810.5,78.8 L812.3,81.7 L814.0,84.6 L815.7,87.8 L817.6,91.2 L819.4,94.6 L821.1,97.7 L822.7,100.2 L824.0,102.0 L826.1,103.3 L827.4,102.2 L829.2,100.4 L830.5,99.4 L831.9,98.2 L833.4,96.7 L835.0,95.2 L836.7,93.6 L838.3,92.0 L840.0,90.4 L841.7,88.9 L843.4,87.2 L845.2,85.5 L847.0,83.7 L848.8,81.7 L850.5,79.5 L852.3,77.1 L854.1,74.5 L855.9,71.9 L857.6,69.5 L859.2,67.3 L861.1,64.8 L863.1,62.4 L864.9,60.2 L866.4,58.3 L867.5,57.0" fill="none" stroke="#5aaef0" stroke-width="1" stroke-linejoin="round"/>
<path d="M0.0,455.7 L2.6,455.7 L4.1,453.6 L6.0,450.7 L7.8,448.0 L9.6,446.1 L11.3,444.5 L13.0,443.0 L14.6,441.7 L16.1,440.6 L17.6,439.0 L19.1,436.3 L20.6,433.2 L22.1,431.0 L23.6,430.5 L25.1,430.9 L26.7,431.0 L28.4,430.2 L30.2,429.1 L31.9,428.6 L33.5,429.2 L34.9,430.4 L36.5,431.0 L38.1,430.5 L39.8,429.4 L41.7,428.6 L43.1,428.5 L44.7,428.7 L46.4,428.9 L48.0,429.0 L49.5,429.0 L51.6,428.7 L53.4,428.2 L55.3,427.3 L57.3,425.7 L59.3,423.7 L61.2,422.0 L63.0,420.8 L64.8,419.8 L66.4,419.0 L68.3,418.7 L70.3,418.0 L72.0,416.0 L73.8,413.4 L75.5,411.4 L77.5,410.4 L79.4,409.7 L81.0,408.2 L82.8,406.4 L84.6,405.0 L86.4,404.5 L88.1,404.5 L89.8,404.0 L91.3,402.5 L92.8,400.5 L94.4,399.3 L96.0,399.6 L97.7,400.7 L100.0,401.0 L101.3,400.7 L102.7,400.1 L104.3,399.3 L106.0,398.5 L107.6,397.7 L109.2,397.0 L110.6,396.5 L112.3,396.0 L113.8,395.7 L115.3,395.5 L116.8,395.4 L118.4,395.5 L119.9,395.9 L121.4,396.6 L122.9,397.4 L124.6,398.2 L126.3,398.5 L128.2,398.4 L129.5,397.9 L130.9,397.1 L132.4,396.1 L133.9,395.0 L135.5,393.7 L137.0,392.5 L138.7,391.4 L140.3,390.4 L141.9,389.6 L143.4,389.1 L145.0,388.7 L146.6,388.3 L148.3,388.1 L149.9,387.8 L151.6,387.6 L153.2,387.5 L154.7,387.2 L156.2,387.0 L157.5,386.7 L159.5,386.0 L161.2,385.2 L162.8,384.4 L164.3,383.6 L165.7,383.1 L167.3,382.8 L168.9,382.9 L170.5,383.4 L172.2,384.1 L173.8,384.8 L175.4,385.4 L177.0,385.7 L178.6,385.8 L180.3,385.8 L182.0,385.6 L183.6,385.4 L185.3,385.1 L186.8,384.8 L188.6,384.3 L190.3,383.7 L192.0,383.0 L193.6,382.4 L195.0,382.0 L196.9,381.6 L198.4,381.5 L200.0,382.0 L201.4,383.0 L202.8,384.6 L204.3,386.2 L206.0,387.5 L207.3,388.4 L208.6,389.2 L210.0,389.9 L211.7,390.4 L214.0,390.6 L215.2,390.6 L216.4,390.5 L217.8,390.3 L219.3,390.1 L220.9,389.8 L222.5,389.5 L224.1,389.2 L225.8,388.8 L227.4,388.5 L229.0,388.1 L230.5,387.8 L232.0,387.5 L233.7,387.1 L235.4,386.8 L237.1,386.3 L238.8,385.9 L240.5,385.5 L242.1,385.1 L243.7,384.7 L245.2,384.3 L246.7,383.9 L248.0,383.6 L250.0,383.3 L251.9,383.2 L253.5,383.1 L255.0,382.9 L256.5,382.3 L258.0,381.0 L259.8,378.4 L261.5,374.9 L263.1,371.0 L264.6,367.2 L266.0,364.0 L267.7,360.3 L269.0,357.4 L271.0,353.6 L272.2,351.3 L273.7,348.6 L275.2,345.6 L276.9,342.7 L278.5,339.9 L280.1,337.4 L281.5,335.4 L283.4,333.6 L285.1,332.4 L286.8,331.7 L288.4,331.2 L290.0,330.5 L291.7,329.3 L293.1,328.2 L294.7,327.2 L296.7,326.6 L298.1,326.5 L299.7,326.5 L301.4,326.6 L303.1,326.8 L304.9,327.0 L306.7,327.3 L308.4,327.5 L310.1,327.8 L311.8,328.2 L313.5,328.6 L315.1,329.0 L316.8,329.3 L318.5,329.5 L320.2,329.5 L321.9,329.2 L323.6,328.7 L325.2,328.0 L326.9,327.2 L328.6,326.5 L330.2,326.0 L331.9,325.6 L333.6,325.5 L335.4,325.6 L337.2,325.9 L339.0,326.2 L340.7,326.5 L342.2,326.6 L343.6,326.6 L346.1,326.1 L347.9,325.2 L349.5,323.6 L351.2,318.6 L353.4,313.9 L354.6,313.3 L356.1,313.2 L357.6,313.3 L359.4,313.5 L361.2,313.8 L363.1,313.9 L364.5,313.9 L366.0,313.9 L367.6,313.9 L369.2,313.9 L370.9,313.8 L372.5,313.8 L374.0,313.8 L375.5,313.9 L376.8,313.9 L378.8,314.0 L380.6,314.1 L382.1,314.3 L383.6,314.5 L385.0,314.8 L386.6,315.2 L388.0,315.7 L389.5,316.3 L391.4,316.7 L392.8,316.9 L394.4,317.0 L396.1,317.0 L397.8,317.1 L399.6,317.3 L401.2,317.5 L402.8,317.8 L404.4,318.4 L405.8,319.2 L407.2,320.2 L408.6,321.1 L410.1,321.9 L411.9,322.4 L413.2,322.6 L414.7,322.7 L416.3,322.8 L417.9,322.8 L419.6,322.7 L421.2,322.7 L422.8,322.6 L424.3,322.5 L425.6,322.4 L427.4,322.1 L429.1,321.5 L430.6,320.9 L432.0,320.5 L433.4,320.6 L434.7,321.2 L436.5,323.6 L438.2,327.1 L439.8,331.0 L441.5,334.9 L443.0,338.1 L444.5,341.6 L446.1,345.0 L447.7,347.8 L449.5,349.7 L451.1,350.4 L452.7,350.4 L454.4,350.0 L456.1,349.2 L457.9,348.3 L459.7,347.4 L461.3,346.6 L462.9,345.6 L464.6,344.4 L466.3,343.2 L468.0,341.9 L469.6,340.7 L471.1,339.5 L473.1,337.8 L475.0,336.0 L476.8,334.3 L478.5,332.7 L480.0,331.5 L481.7,330.8 L483.1,330.7 L485.4,329.0 L486.6,327.7 L488.0,326.0 L489.5,324.1 L491.1,322.0 L492.8,319.8 L494.5,317.6 L496.2,315.4 L497.9,313.3 L499.5,311.4 L501.1,309.7 L502.7,308.2 L504.3,306.7 L505.9,305.3 L507.5,303.9 L509.1,302.5 L510.6,300.9 L512.1,299.2 L513.5,297.4 L515.2,294.8 L516.9,292.2 L518.5,289.4 L520.0,286.4 L521.5,283.3 L522.8,279.9 L524.0,276.4 L525.8,266.0 L527.1,254.6 L529.3,246.5 L530.5,245.2 L531.9,244.5 L533.5,244.4 L535.2,244.6 L536.9,245.0 L538.7,245.6 L540.4,246.1 L541.9,246.4 L543.3,246.5 L545.1,246.2 L546.8,245.8 L548.3,245.3 L549.7,244.8 L551.1,244.4 L552.4,244.2 L554.3,244.5 L556.0,245.3 L557.6,245.8 L559.3,245.3 L561.0,243.3 L562.6,240.3 L564.3,237.0 L566.1,234.0 L567.8,231.9 L569.8,229.8 L571.7,227.8 L573.5,226.1 L575.0,224.8 L576.6,223.9 L578.3,223.0 L579.6,221.9 L581.3,220.6 L583.1,219.1 L585.0,217.4 L586.9,215.6 L588.8,213.8 L590.5,211.6 L592.3,209.2 L594.1,206.7 L595.9,204.2 L597.6,202.0 L599.2,200.2 L600.9,198.8 L602.5,198.0 L604.0,197.5 L605.6,197.0 L607.5,196.0 L608.9,195.2 L610.4,194.3 L612.1,193.4 L613.8,192.4 L615.4,191.4 L617.1,190.3 L618.6,189.0 L620.0,187.7 L621.9,185.2 L623.5,182.2 L625.0,179.1 L626.6,176.3 L628.3,174.0 L629.9,172.6 L631.7,171.6 L633.5,170.8 L635.3,170.2 L637.1,169.6 L638.8,169.0 L640.5,168.2 L642.0,167.6 L643.6,167.0 L645.2,166.4 L647.1,165.8 L648.5,165.4 L650.0,164.9 L651.6,164.4 L653.2,164.0 L654.9,163.6 L656.5,163.2 L658.1,162.9 L659.6,162.7 L661.5,162.7 L663.4,162.8 L665.2,163.1 L667.0,163.4 L668.6,163.7 L670.0,163.8 L671.9,163.4 L673.2,162.8 L675.6,162.4 L676.8,162.3 L678.2,162.3 L679.7,162.2 L681.4,162.2 L683.1,162.2 L684.9,162.1 L686.6,162.2 L688.3,162.2 L689.9,162.3 L691.2,162.4 L693.3,162.7 L695.1,163.2 L696.8,163.7 L698.4,164.2 L700.0,164.7 L701.7,165.0 L703.4,165.2 L705.1,165.4 L706.8,165.5 L708.6,165.5 L710.3,165.3 L712.0,165.0 L713.5,164.5 L715.1,164.0 L716.6,163.2 L718.2,162.4 L719.7,161.6 L721.1,160.7 L722.5,159.8 L724.3,158.3 L726.0,156.6 L727.6,154.8 L729.0,153.4 L730.3,152.5 L732.5,152.3 L734.2,154.6 L735.9,159.9 L738.1,167.6 L739.4,171.5 L740.9,176.0 L742.6,180.6 L744.3,184.9 L745.9,188.4 L747.5,190.9 L749.1,192.8 L750.7,194.2 L752.3,195.3 L753.8,196.2 L755.3,197.1 L756.7,197.4 L758.2,197.4 L760.0,197.5 L761.3,197.4 L762.7,197.2 L764.2,196.8 L765.8,196.6 L767.5,196.5 L769.1,196.8 L770.6,197.5 L772.4,199.1 L774.2,201.2 L776.0,203.8 L777.7,206.6 L779.4,209.3 L781.0,211.9 L782.7,214.9 L784.3,218.1 L785.9,221.1 L787.4,223.9 L788.9,226.2 L790.4,227.9 L791.9,229.3 L793.4,230.3 L795.0,231.0 L796.7,231.4 L798.3,231.5 L800.0,231.3 L801.7,230.8 L803.5,230.2 L805.3,229.5 L807.1,228.8 L808.9,227.9 L810.7,226.8 L812.5,225.6 L814.2,224.4 L815.9,223.3 L817.5,222.3 L819.3,221.3 L820.9,220.4 L822.5,219.6 L823.9,218.9 L825.3,218.4 L826.9,218.6 L828.3,219.2 L830.5,218.4 L831.8,217.3 L833.3,215.7 L835.0,213.8 L836.8,211.8 L838.7,209.8 L840.4,207.9 L842.1,206.4 L843.5,205.4 L845.4,204.7 L847.0,204.8 L848.5,205.3 L849.9,206.0 L851.4,206.7 L853.0,207.3 L854.5,208.0 L856.0,208.9 L857.6,209.7 L859.2,210.6 L861.0,211.5 L862.9,212.5 L864.8,213.5 L866.4,214.4 L867.5,215.0" fill="none" stroke="#5aaef0" stroke-width="1" stroke-linejoin="round"/>
<path d="M0.00,339.40 C1.70,341.50 7.38,348.20 10.20,352.00 C13.02,355.80 14.65,359.65 16.90,362.20 C19.15,364.75 20.88,366.60 23.70,367.30 C26.52,368.00 30.42,366.82 33.80,366.40 C37.18,365.98 41.17,365.50 44.00,364.80 C46.83,364.10 47.98,363.05 50.80,362.20 C53.62,361.35 57.52,360.55 60.90,359.70 C64.28,358.85 67.72,358.23 71.10,357.10 C74.48,355.97 77.82,353.75 81.20,352.90 C84.58,352.05 88.27,352.28 91.40,352.00 C94.53,351.72 97.45,351.12 100.00,351.20 C102.55,351.28 102.98,352.28 106.70,352.50 C110.42,352.72 117.75,351.85 122.30,352.50 C126.85,353.15 129.77,355.65 134.00,356.40 C138.23,357.15 143.78,357.15 147.70,357.00 C151.62,356.85 153.92,356.08 157.50,355.50 C161.08,354.92 165.30,353.50 169.20,353.50 C173.10,353.50 177.64,355.50 180.90,355.50 C184.16,355.50 186.40,354.22 188.75,353.50 C191.10,352.78 192.84,352.78 195.00,351.20 C197.16,349.62 198.63,346.48 201.70,344.00 C204.77,341.52 209.48,339.05 213.40,336.30 C217.32,333.55 220.63,329.93 225.20,327.50 C229.77,325.07 236.25,323.82 240.80,321.70 C245.35,319.58 248.60,317.42 252.50,314.80 C256.40,312.18 260.30,308.60 264.20,306.00 C268.10,303.40 271.60,301.80 275.90,299.20 C280.20,296.60 286.53,292.02 290.00,290.40 C293.47,288.78 293.63,289.33 296.70,289.50 C299.77,289.67 304.48,290.92 308.40,291.40 C312.32,291.88 316.28,292.23 320.20,292.40 C324.12,292.57 328.00,292.23 331.90,292.40 C335.80,292.57 340.35,293.08 343.60,293.40 C346.85,293.72 348.15,293.82 351.40,294.30 C354.65,294.78 359.20,295.97 363.10,296.30 C367.00,296.63 371.15,296.13 374.80,296.30 C378.45,296.47 381.85,297.13 385.00,297.30 C388.15,297.47 389.98,297.48 393.70,297.30 C397.42,297.12 402.75,296.95 407.30,296.20 C411.85,295.45 416.43,293.75 421.00,292.80 C425.57,291.85 430.90,292.60 434.70,290.50 C438.50,288.40 440.38,283.45 443.80,280.20 C447.22,276.95 451.40,273.87 455.20,271.00 C459.00,268.13 463.18,265.27 466.60,263.00 C470.02,260.73 473.47,258.90 475.70,257.40 C477.93,255.90 478.22,255.63 480.00,254.00 C481.78,252.37 483.43,250.57 486.40,247.60 C489.37,244.63 494.00,240.00 497.80,236.20 C501.60,232.40 505.40,228.58 509.20,224.80 C513.00,221.02 516.80,217.30 520.60,213.50 C524.40,209.70 528.22,204.67 532.00,202.00 C535.78,199.33 539.90,199.38 543.30,197.50 C546.70,195.62 549.35,193.73 552.40,190.70 C555.45,187.67 558.55,182.72 561.60,179.30 C564.65,175.88 568.47,172.08 570.70,170.20 C572.93,168.32 573.03,169.25 575.00,168.00 C576.97,166.75 579.17,164.80 582.50,162.70 C585.83,160.60 590.83,157.48 595.00,155.40 C599.17,153.32 603.33,151.93 607.50,150.20 C611.67,148.47 615.83,146.57 620.00,145.00 C624.17,143.43 628.33,142.18 632.50,140.80 C636.67,139.42 640.83,137.38 645.00,136.70 C649.17,136.02 653.33,136.88 657.50,136.70 C661.67,136.52 666.98,135.66 670.00,135.60 C673.02,135.54 672.06,136.88 675.60,136.35 C679.14,135.82 686.03,134.58 691.25,132.40 C696.47,130.22 702.56,125.47 706.90,123.30 C711.24,121.13 713.62,121.05 717.30,119.40 C720.98,117.75 725.53,113.63 729.00,113.40 C732.47,113.17 734.85,116.13 738.10,118.00 C741.35,119.87 744.85,123.27 748.50,124.60 C752.15,125.93 756.32,125.77 760.00,126.00 C763.68,126.23 767.10,125.17 770.60,126.00 C774.10,126.83 777.52,128.62 781.00,131.00 C784.48,133.38 788.02,137.18 791.50,140.25 C794.98,143.32 798.43,146.79 801.90,149.40 C805.37,152.01 808.83,154.17 812.30,155.90 C815.77,157.63 819.88,159.07 822.70,159.80 C825.52,160.53 826.60,162.03 829.20,160.30 C831.80,158.57 835.04,152.52 838.30,149.40 C841.56,146.28 845.27,143.55 848.75,141.60 C852.23,139.65 856.08,138.57 859.20,137.70 C862.33,136.82 866.12,136.57 867.50,136.35" fill="none" stroke="#5aaef0" stroke-width="1" stroke-linejoin="round"/>
<path d="M0.00,281.80 C1.42,282.80 5.68,285.82 8.50,287.80 C11.32,289.78 14.08,291.58 16.90,293.70 C19.72,295.82 22.58,298.53 25.40,300.50 C28.22,302.47 30.98,303.82 33.80,305.50 C36.62,307.18 39.47,309.05 42.30,310.60 C45.13,312.15 47.98,313.40 50.80,314.80 C53.62,316.20 56.38,317.72 59.20,319.00 C62.02,320.28 64.88,321.37 67.70,322.50 C70.52,323.63 73.28,324.82 76.10,325.80 C78.92,326.78 81.49,327.40 84.60,328.40 C87.71,329.40 92.18,330.95 94.75,331.80 C97.32,332.65 96.71,332.63 100.00,333.50 C103.29,334.37 108.83,334.97 114.50,337.00 C120.17,339.03 127.48,343.27 134.00,345.70 C140.52,348.13 147.73,350.13 153.60,351.60 C159.47,353.07 165.30,353.53 169.20,354.50 C173.10,355.47 174.07,356.58 177.00,357.40 C179.93,358.22 183.80,359.40 186.80,359.40 C189.80,359.40 191.87,358.88 195.00,357.40 C198.13,355.92 201.60,352.90 205.60,350.50 C209.60,348.10 214.60,345.08 219.00,343.00 C223.40,340.92 226.42,339.28 232.00,338.00 C237.58,336.72 247.78,336.30 252.50,335.30 C257.22,334.30 257.05,332.80 260.30,332.00 C263.55,331.20 267.05,331.08 272.00,330.50 C276.95,329.92 285.88,329.15 290.00,328.50 C294.12,327.85 293.63,327.42 296.70,326.60 C299.77,325.78 304.48,324.75 308.40,323.60 C312.32,322.45 316.28,321.00 320.20,319.70 C324.12,318.40 328.00,317.08 331.90,315.80 C335.80,314.52 339.70,313.30 343.60,312.00 C347.50,310.70 351.40,309.08 355.30,308.00 C359.20,306.92 363.09,306.33 367.00,305.50 C370.91,304.67 375.75,303.58 378.75,303.00 C381.75,302.42 382.51,302.38 385.00,302.00 C387.49,301.62 389.98,301.67 393.70,300.70 C397.42,299.73 402.75,297.72 407.30,296.20 C411.85,294.68 416.43,292.55 421.00,291.60 C425.57,290.65 430.15,291.43 434.70,290.50 C439.25,289.57 443.75,287.33 448.30,286.00 C452.85,284.67 457.43,283.83 462.00,282.50 C466.57,281.17 472.70,278.83 475.70,278.00 C478.70,277.17 475.18,278.83 480.00,277.50 C484.82,276.17 497.83,272.52 504.60,270.00 C511.37,267.48 515.67,264.98 520.60,262.40 C525.53,259.82 529.65,257.35 534.20,254.50 C538.75,251.65 543.33,248.35 547.90,245.30 C552.47,242.25 557.08,239.25 561.60,236.20 C566.12,233.15 570.13,230.03 575.00,227.00 C579.87,223.97 584.68,222.63 590.80,218.00 C596.92,213.37 605.45,203.73 611.70,199.20 C617.95,194.67 623.45,193.42 628.30,190.80 C633.15,188.18 636.63,185.93 640.80,183.50 C644.97,181.07 649.47,178.50 653.30,176.25 C657.12,174.00 660.97,171.74 663.75,170.00 C666.53,168.26 668.02,167.07 670.00,165.80 C671.98,164.53 672.06,164.27 675.60,162.40 C679.14,160.53 686.03,157.20 691.25,154.60 C696.47,152.00 701.69,149.19 706.90,146.80 C712.11,144.41 718.17,141.77 722.50,140.25 C726.83,138.73 729.43,138.12 732.90,137.70 C736.37,137.27 738.78,137.92 743.30,137.70 C747.82,137.47 755.45,137.23 760.00,136.35 C764.55,135.47 767.10,132.93 770.60,132.40 C774.10,131.88 776.65,132.54 781.00,133.20 C785.35,133.86 791.48,135.48 796.70,136.35 C801.92,137.22 807.53,138.18 812.30,138.40 C817.07,138.62 820.53,138.13 825.30,137.70 C830.07,137.27 836.12,136.46 840.90,135.80 C845.68,135.14 849.57,134.62 854.00,133.75 C858.43,132.88 865.25,131.12 867.50,130.60" fill="none" stroke="#e39d55" stroke-width="1" stroke-linejoin="round"/>
<path d="M0.00,388.40 C1.13,387.57 4.55,385.08 6.80,383.40 C9.05,381.72 11.25,379.70 13.50,378.30 C15.75,376.90 18.32,376.70 20.30,375.00 C22.28,373.30 23.15,371.50 25.40,368.10 C27.65,364.70 30.98,358.55 33.80,354.60 C36.62,350.65 39.47,347.22 42.30,344.40 C45.13,341.58 48.55,338.40 50.80,337.70 C53.05,337.00 54.12,339.35 55.80,340.20 C57.48,341.05 59.20,343.08 60.90,342.80 C62.60,342.52 64.02,338.50 66.00,338.50 C67.98,338.50 70.55,341.82 72.80,342.80 C75.05,343.78 77.25,342.72 79.50,344.40 C81.75,346.08 84.03,350.07 86.30,352.90 C88.57,355.73 90.82,359.42 93.10,361.40 C95.38,363.38 98.38,363.83 100.00,364.80 C101.62,365.77 101.03,367.78 102.80,367.20 C104.57,366.62 107.67,362.60 110.60,361.30 C113.53,360.00 116.50,360.22 120.40,359.40 C124.30,358.58 130.42,357.38 134.00,356.40 C137.58,355.42 139.28,355.60 141.90,353.50 C144.52,351.40 147.10,345.10 149.70,343.80 C152.30,342.50 154.25,345.22 157.50,345.70 C160.75,346.18 165.30,346.22 169.20,346.70 C173.10,347.18 177.64,348.43 180.90,348.60 C184.16,348.77 186.40,348.13 188.75,347.70 C191.10,347.27 193.16,346.62 195.00,346.00 C196.84,345.38 197.97,345.67 199.80,344.00 C201.63,342.33 203.63,339.67 206.00,336.00 C208.37,332.33 211.50,326.00 214.00,322.00 C216.50,318.00 218.83,315.00 221.00,312.00 C223.17,309.00 224.03,306.45 227.00,304.00 C229.97,301.55 235.20,299.40 238.80,297.30 C242.40,295.20 245.50,293.52 248.60,291.40 C251.70,289.28 254.80,285.42 257.40,284.60 C260.00,283.78 261.77,285.53 264.20,286.50 C266.63,287.47 269.07,290.23 272.00,290.40 C274.93,290.57 278.80,288.47 281.80,287.50 C284.80,286.53 287.83,284.60 290.00,284.60 C292.17,284.60 292.38,286.03 294.80,287.50 C297.22,288.97 300.93,291.93 304.50,293.40 C308.07,294.87 312.33,295.65 316.25,296.30 C320.17,296.95 324.74,296.82 328.00,297.30 C331.26,297.78 333.20,299.20 335.80,299.20 C338.40,299.20 341.00,297.95 343.60,297.30 C346.20,296.65 348.80,295.37 351.40,295.30 C354.00,295.23 356.27,296.57 359.20,296.90 C362.13,297.23 365.74,297.23 369.00,297.30 C372.26,297.37 376.08,297.47 378.75,297.30 C381.42,297.13 382.51,296.48 385.00,296.30 C387.49,296.12 390.73,296.42 393.70,296.20 C396.67,295.98 399.77,296.15 402.80,295.00 C405.83,293.85 408.87,290.63 411.90,289.30 C414.93,287.97 417.20,287.75 421.00,287.00 C424.80,286.25 431.28,287.47 434.70,284.80 C438.12,282.13 439.23,275.57 441.50,271.00 C443.77,266.43 445.65,260.80 448.30,257.40 C450.95,254.00 454.35,253.07 457.40,250.60 C460.45,248.13 463.55,245.45 466.60,242.60 C469.65,239.75 473.47,235.97 475.70,233.50 C477.93,231.03 478.22,230.57 480.00,227.80 C481.78,225.03 483.43,218.35 486.40,216.90 C489.37,215.45 494.00,220.42 497.80,219.10 C501.60,217.78 505.40,213.18 509.20,209.00 C513.00,204.82 516.43,197.83 520.60,194.00 C524.77,190.17 530.42,188.83 534.20,186.00 C537.98,183.17 540.27,179.63 543.30,177.00 C546.33,174.37 549.35,173.03 552.40,170.20 C555.45,167.37 558.55,163.23 561.60,160.00 C564.65,156.77 568.47,153.08 570.70,150.80 C572.93,148.52 573.73,147.60 575.00,146.30 C576.27,145.00 576.35,144.78 578.30,143.00 C580.25,141.22 583.58,137.35 586.70,135.60 C589.82,133.85 593.88,132.67 597.00,132.50 C600.12,132.33 602.61,133.90 605.40,134.60 C608.19,135.30 610.62,135.67 613.75,136.70 C616.88,137.73 621.08,139.75 624.20,140.80 C627.33,141.85 629.73,143.34 632.50,143.00 C635.27,142.66 638.02,139.80 640.80,138.75 C643.58,137.70 646.07,137.39 649.20,136.70 C652.33,136.01 656.13,134.95 659.60,134.60 C663.07,134.25 667.33,134.74 670.00,134.60 C672.67,134.46 672.06,135.18 675.60,133.75 C679.14,132.32 686.90,129.04 691.25,126.00 C695.60,122.96 698.24,118.55 701.70,115.50 C705.16,112.45 708.53,109.87 712.00,107.70 C715.47,105.53 719.67,104.02 722.50,102.50 C725.33,100.98 726.40,97.52 729.00,98.60 C731.60,99.68 734.85,104.23 738.10,109.00 C741.35,113.77 745.45,121.77 748.50,127.20 C751.55,132.63 754.48,138.98 756.40,141.60 C758.32,144.22 758.50,142.25 760.00,142.90 C761.50,143.55 763.20,144.42 765.40,145.50 C767.60,146.58 770.60,147.10 773.20,149.40 C775.80,151.70 777.95,157.57 781.00,159.30 C784.05,161.03 788.02,159.52 791.50,159.80 C794.98,160.08 798.87,160.13 801.90,161.00 C804.93,161.87 806.88,163.68 809.70,165.00 C812.52,166.32 816.20,168.90 818.80,168.90 C821.40,168.90 822.92,168.25 825.30,165.00 C827.68,161.75 830.07,155.48 833.10,149.40 C836.13,143.32 840.02,134.15 843.50,128.50 C846.98,122.85 850.95,118.75 854.00,115.50 C857.05,112.25 859.55,111.08 861.80,109.00 C864.05,106.92 866.55,104.00 867.50,103.00" fill="none" stroke="#f2c878" stroke-width="1" stroke-linejoin="round"/>
<line x1="0" y1="75.5" x2="976" y2="75.5" stroke="#8f8f8f" stroke-width="1" stroke-dasharray="1,1.5"/>
<line x1="-0.5" y1="390" x2="-0.5" y2="402" stroke="#505050" stroke-width="1"/>
<rect x="-2.5" y="395.5" width="3" height="5" fill="#6e6e6e" stroke="#3c3c3c" stroke-width="1"/>
<line x1="3.5" y1="378" x2="3.5" y2="398" stroke="#505050" stroke-width="1"/>
<rect x="1.5" y="382.5" width="3" height="12" fill="#ffffff" stroke="#3c3c3c" stroke-width="1"/>
<line x1="8.5" y1="330" x2="8.5" y2="384" stroke="#505050" stroke-width="1"/>
<rect x="6.5" y="338.5" width="3" height="43" fill="#ffffff" stroke="#3c3c3c" stroke-width="1"/>
<line x1="13.5" y1="327" x2="13.5" y2="368" stroke="#505050" stroke-width="1"/>
<rect x="11.5" y="338.5" width="3" height="7" fill="#6e6e6e" stroke="#3c3c3c" stroke-width="1"/>
<line x1="18.5" y1="359" x2="18.5" y2="394" stroke="#505050" stroke-width="1"/>
<rect x="16.5" y="370.5" width="3" height="22" fill="#6e6e6e" stroke="#3c3c3c" stroke-width="1"/>
<line x1="23.5" y1="363" x2="23.5" y2="395" stroke="#505050" stroke-width="1"/>
<rect x="21.5" y="367.5" width="3" height="26" fill="#ffffff" stroke="#3c3c3c" stroke-width="1"/>
<line x1="27.5" y1="322" x2="27.5" y2="373" stroke="#505050" stroke-width="1"/>
<rect x="25.5" y="328.5" width="3" height="38" fill="#ffffff" stroke="#3c3c3c" stroke-width="1"/>
<line x1="32.5" y1="322" x2="32.5" y2="348" stroke="#505050" stroke-width="1"/>
<rect x="30.5" y="328.5" width="3" height="9" fill="#6e6e6e" stroke="#3c3c3c" stroke-width="1"/>
<line x1="37.5" y1="278" x2="37.5" y2="300" stroke="#505050" stroke-width="1"/>
<rect x="35.5" y="279.5" width="3" height="19" fill="#6e6e6e" stroke="#3c3c3c" stroke-width="1"/>
<line x1="42.5" y1="294" x2="42.5" y2="333" stroke="#505050" stroke-width="1"/>
<rect x="40.5" y="298.5" width="3" height="13" fill="#6e6e6e" stroke="#3c3c3c" stroke-width="1"/>
<line x1="47.5" y1="311" x2="47.5" y2="336" stroke="#505050" stroke-width="1"/>
<rect x="45.5" y="312.5" width="3" height="20" fill="#6e6e6e" stroke="#3c3c3c" stroke-width="1"/>
<line x1="51.5" y1="324" x2="51.5" y2="346" stroke="#505050" stroke-width="1"/>
<rect x="49.5" y="332.5" width="3" height="1" fill="#6e6e6e" stroke="#3c3c3c" stroke-width="1"/>
<line x1="56.5" y1="335" x2="56.5" y2="361" stroke="#505050" stroke-width="1"/>
<rect x="54.5" y="347.5" width="3" height="7" fill="#6e6e6e" stroke="#3c3c3c" stroke-width="1"/>
<line x1="61.5" y1="353" x2="61.5" y2="377" stroke="#505050" stroke-width="1"/>
<rect x="59.5" y="354.5" width="3" height="15" fill="#6e6e6e" stroke="#3c3c3c" stroke-width="1"/>
<line x1="66.5" y1="356" x2="66.5" y2="386" stroke="#505050" stroke-width="1"/>
<rect x="64.5" y="363.5" width="3" height="6" fill="#ffffff" stroke="#3c3c3c" stroke-width="1"/>
<line x1="71.5" y1="363" x2="71.5" y2="393" stroke="#505050" stroke-width="1"/>
<rect x="69.5" y="363.5" width="3" height="27" fill="#6e6e6e" stroke="#3c3c3c" stroke-width="1"/>
<line x1="75.5" y1="355" x2="75.5" y2="399" stroke="#505050" stroke-width="1"/>
<rect x="73.5" y="358.5" width="3" height="27" fill="#ffffff" stroke="#3c3c3c" stroke-width="1"/>
<line x1="80.5" y1="344" x2="80.5" y2="366" stroke="#505050" stroke-width="1"/>
<rect x="78.5" y="348.5" width="3" height="9" fill="#ffffff" stroke="#3c3c3c" stroke-width="1"/>
<line x1="85.5" y1="320" x2="85.5" y2="363" stroke="#505050" stroke-width="1"/>
<rect x="83.5" y="348.5" width="3" height="11" fill="#6e6e6e" stroke="#3c3c3c" stroke-width="1"/>
<line x1="90.5" y1="355" x2="90.5" y2="373" stroke="#505050" stroke-width="1"/>
<rect x="88.5" y="360.5" width="3" height="2" fill="#6e6e6e" stroke="#3c3c3c" stroke-width="1"/>
<line x1="95.5" y1="361" x2="95.5" y2="394" stroke="#505050" stroke-width="1"/>
<rect x="93.5" y="364.5" width="3" height="24" fill="#ffffff" stroke="#3c3c3c" stroke-width="1"/>
<line x1="99.5" y1="356" x2="99.5" y2="390" stroke="#505050" stroke-width="1"/>
<rect x="97.5" y="364.5" width="3" height="22" fill="#6e6e6e" stroke="#3c3c3c" stroke-width="1"/>
<line x1="104.5" y1="369" x2="104.5" y2="391" stroke="#505050" stroke-width="1"/>
<rect x="102.5" y="373.5" width="3" height="13" fill="#ffffff" stroke="#3c3c3c" stroke-width="1"/>
<line x1="109.5" y1="343" x2="109.5" y2="374" stroke="#505050" stroke-width="1"/>
<rect x="107.5" y="348.5" width="3" height="24" fill="#ffffff" stroke="#3c3c3c" stroke-width="1"/>
<line x1="114.5" y1="339" x2="114.5" y2="355" stroke="#505050" stroke-width="1"/>
<rect x="112.5" y="347.5" width="3" height="4" fill="#ffffff" stroke="#3c3c3c" stroke-width="1"/>
<line x1="119.5" y1="336" x2="119.5" y2="357" stroke="#505050" stroke-width="1"/>
<rect x="117.5" y="347.5" width="3" height="5" fill="#6e6e6e" stroke="#3c3c3c" stroke-width="1"/>
<line x1="123.5" y1="353" x2="123.5" y2="379" stroke="#505050" stroke-width="1"/>
<rect x="121.5" y="353.5" width="3" height="20" fill="#6e6e6e" stroke="#3c3c3c" stroke-width="1"/>
<line x1="128.5" y1="354" x2="128.5" y2="386" stroke="#505050" stroke-width="1"/>
<rect x="126.5" y="362.5" width="3" height="11" fill="#ffffff" stroke="#3c3c3c" stroke-width="1"/>
<line x1="133.5" y1="338" x2="133.5" y2="356" stroke="#505050" stroke-width="1"/>
<rect x="131.5" y="340.5" width="3" height="10" fill="#ffffff" stroke="#3c3c3c" stroke-width="1"/>
<line x1="138.5" y1="336" x2="138.5" y2="357" stroke="#505050" stroke-width="1"/>
<rect x="136.5" y="340.5" width="3" height="1" fill="#6e6e6e" stroke="#3c3c3c" stroke-width="1"/>
<line x1="143.5" y1="330" x2="143.5" y2="348" stroke="#505050" stroke-width="1"/>
<rect x="141.5" y="336.5" width="3" height="6" fill="#ffffff" stroke="#3c3c3c" stroke-width="1"/>
<line x1="147.5" y1="321" x2="147.5" y2="342" stroke="#505050" stroke-width="1"/>
<rect x="145.5" y="325.5" width="3" height="10" fill="#ffffff" stroke="#3c3c3c" stroke-width="1"/>
<line x1="152.5" y1="322" x2="152.5" y2="352" stroke="#505050" stroke-width="1"/>
<rect x="150.5" y="323.5" width="3" height="23" fill="#6e6e6e" stroke="#3c3c3c" stroke-width="1"/>
<line x1="157.5" y1="326" x2="157.5" y2="352" stroke="#505050" stroke-width="1"/>
<rect x="155.5" y="342.5" width="3" height="4" fill="#ffffff" stroke="#3c3c3c" stroke-width="1"/>
<line x1="162.5" y1="339" x2="162.5" y2="367" stroke="#505050" stroke-width="1"/>
<rect x="160.5" y="341.5" width="3" height="15" fill="#6e6e6e" stroke="#3c3c3c" stroke-width="1"/>
<line x1="167.5" y1="346" x2="167.5" y2="359" stroke="#505050" stroke-width="1"/>
<rect x="165.5" y="352.5" width="3" height="4" fill="#ffffff" stroke="#3c3c3c" stroke-width="1"/>
<line x1="171.5" y1="362" x2="171.5" y2="387" stroke="#505050" stroke-width="1"/>
<rect x="169.5" y="364.5" width="3" height="10" fill="#6e6e6e" stroke="#3c3c3c" stroke-width="1"/>
<line x1="176.5" y1="358" x2="176.5" y2="375" stroke="#505050" stroke-width="1"/>
<rect x="174.5" y="370.5" width="3" height="4" fill="#ffffff" stroke="#3c3c3c" stroke-width="1"/>
<line x1="181.5" y1="340" x2="181.5" y2="373" stroke="#505050" stroke-width="1"/>
<rect x="179.5" y="346.5" width="3" height="24" fill="#ffffff" stroke="#3c3c3c" stroke-width="1"/>
<line x1="186.5" y1="345" x2="186.5" y2="359" stroke="#505050" stroke-width="1"/>
<rect x="184.5" y="346.5" width="3" height="7" fill="#6e6e6e" stroke="#3c3c3c" stroke-width="1"/>
<line x1="191.5" y1="307" x2="191.5" y2="328" stroke="#505050" stroke-width="1"/>
<rect x="189.5" y="315.5" width="3" height="9" fill="#ffffff" stroke="#3c3c3c" stroke-width="1"/>
<line x1="195.5" y1="303" x2="195.5" y2="323" stroke="#505050" stroke-width="1"/>
<rect x="193.5" y="315.5" width="3" height="5" fill="#6e6e6e" stroke="#3c3c3c" stroke-width="1"/>
<line x1="200.5" y1="311" x2="200.5" y2="330" stroke="#505050" stroke-width="1"/>
<rect x="198.5" y="320.5" width="3" height="1" fill="#6e6e6e" stroke="#3c3c3c" stroke-width="1"/>
<line x1="205.5" y1="296" x2="205.5" y2="323" stroke="#505050" stroke-width="1"/>
<rect x="203.5" y="299.5" width="3" height="22" fill="#ffffff" stroke="#3c3c3c" stroke-width="1"/>
<line x1="210.5" y1="269" x2="210.5" y2="296" stroke="#505050" stroke-width="1"/>
<rect x="208.5" y="272.5" width="3" height="21" fill="#ffffff" stroke="#3c3c3c" stroke-width="1"/>
<line x1="215.5" y1="266" x2="215.5" y2="308" stroke="#505050" stroke-width="1"/>
<rect x="213.5" y="272.5" width="3" height="17" fill="#6e6e6e" stroke="#3c3c3c" stroke-width="1"/>
<line x1="219.5" y1="267" x2="219.5" y2="292" stroke="#505050" stroke-width="1"/>
<rect x="217.5" y="277.5" width="3" height="13" fill="#ffffff" stroke="#3c3c3c" stroke-width="1"/>
<line x1="224.5" y1="271" x2="224.5" y2="285" stroke="#505050" stroke-width="1"/>
<rect x="222.5" y="273.5" width="3" height="3" fill="#ffffff" stroke="#3c3c3c" stroke-width="1"/>
<line x1="229.5" y1="288" x2="229.5" y2="319" stroke="#505050" stroke-width="1"/>
<rect x="227.5" y="300.5" width="3" height="14" fill="#6e6e6e" stroke="#3c3c3c" stroke-width="1"/>
<line x1="234.5" y1="302" x2="234.5" y2="324" stroke="#505050" stroke-width="1"/>
<rect x="232.5" y="314.5" width="3" height="2" fill="#6e6e6e" stroke="#3c3c3c" stroke-width="1"/>
<line x1="239.5" y1="306" x2="239.5" y2="328" stroke="#505050" stroke-width="1"/>
<rect x="237.5" y="307.5" width="3" height="9" fill="#ffffff" stroke="#3c3c3c" stroke-width="1"/>
<line x1="243.5" y1="288" x2="243.5" y2="309" stroke="#505050" stroke-width="1"/>
<rect x="241.5" y="294.5" width="3" height="13" fill="#ffffff" stroke="#3c3c3c" stroke-width="1"/>
<line x1="248.5" y1="273" x2="248.5" y2="285" stroke="#505050" stroke-width="1"/>
<rect x="246.5" y="278.5" width="3" height="1" fill="#6e6e6e" stroke="#3c3c3c" stroke-width="1"/>
<line x1="253.5" y1="259" x2="253.5" y2="291" stroke="#505050" stroke-width="1"/>
<rect x="251.5" y="260.5" width="3" height="19" fill="#ffffff" stroke="#3c3c3c" stroke-width="1"/>
<line x1="258.5" y1="234" x2="258.5" y2="277" stroke="#505050" stroke-width="1"/>
<rect x="256.5" y="237.5" width="3" height="22" fill="#ffffff" stroke="#3c3c3c" stroke-width="1"/>
<line x1="263.5" y1="233" x2="263.5" y2="301" stroke="#505050" stroke-width="1"/>
<rect x="261.5" y="237.5" width="3" height="62" fill="#6e6e6e" stroke="#3c3c3c" stroke-width="1"/>
<line x1="267.5" y1="291" x2="267.5" y2="314" stroke="#505050" stroke-width="1"/>
<rect x="265.5" y="295.5" width="3" height="10" fill="#ffffff" stroke="#3c3c3c" stroke-width="1"/>
<line x1="272.5" y1="290" x2="272.5" y2="306" stroke="#505050" stroke-width="1"/>
<rect x="270.5" y="295.5" width="3" height="4" fill="#6e6e6e" stroke="#3c3c3c" stroke-width="1"/>
<line x1="277.5" y1="294" x2="277.5" y2="312" stroke="#505050" stroke-width="1"/>
<rect x="275.5" y="300.5" width="3" height="4" fill="#6e6e6e" stroke="#3c3c3c" stroke-width="1"/>
<line x1="282.5" y1="290" x2="282.5" y2="312" stroke="#505050" stroke-width="1"/>
<rect x="280.5" y="293.5" width="3" height="11" fill="#ffffff" stroke="#3c3c3c" stroke-width="1"/>
<line x1="287.5" y1="279" x2="287.5" y2="295" stroke="#505050" stroke-width="1"/>
<rect x="285.5" y="286.5" width="3" height="4" fill="#6e6e6e" stroke="#3c3c3c" stroke-width="1"/>
<line x1="291.5" y1="285" x2="291.5" y2="305" stroke="#505050" stroke-width="1"/>
<rect x="289.5" y="291.5" width="3" height="8" fill="#6e6e6e" stroke="#3c3c3c" stroke-width="1"/>
<line x1="296.5" y1="291" x2="296.5" y2="322" stroke="#505050" stroke-width="1"/>
<rect x="294.5" y="293.5" width="3" height="6" fill="#ffffff" stroke="#3c3c3c" stroke-width="1"/>
<line x1="301.5" y1="293" x2="301.5" y2="312" stroke="#505050" stroke-width="1"/>
<rect x="299.5" y="293.5" width="3" height="11" fill="#6e6e6e" stroke="#3c3c3c" stroke-width="1"/>
<line x1="306.5" y1="285" x2="306.5" y2="298" stroke="#505050" stroke-width="1"/>
<rect x="304.5" y="290.5" width="3" height="3" fill="#6e6e6e" stroke="#3c3c3c" stroke-width="1"/>
<line x1="311.5" y1="291" x2="311.5" y2="309" stroke="#505050" stroke-width="1"/>
<rect x="309.5" y="294.5" width="3" height="6" fill="#6e6e6e" stroke="#3c3c3c" stroke-width="1"/>
<line x1="315.5" y1="281" x2="315.5" y2="302" stroke="#505050" stroke-width="1"/>
<rect x="313.5" y="281.5" width="3" height="19" fill="#ffffff" stroke="#3c3c3c" stroke-width="1"/>
<line x1="320.5" y1="273" x2="320.5" y2="315" stroke="#505050" stroke-width="1"/>
<rect x="318.5" y="281.5" width="3" height="27" fill="#6e6e6e" stroke="#3c3c3c" stroke-width="1"/>
<line x1="325.5" y1="289" x2="325.5" y2="307" stroke="#505050" stroke-width="1"/>
<rect x="323.5" y="292.5" width="3" height="8" fill="#6e6e6e" stroke="#3c3c3c" stroke-width="1"/>
<line x1="330.5" y1="285" x2="330.5" y2="301" stroke="#505050" stroke-width="1"/>
<rect x="328.5" y="299.5" width="3" height="1" fill="#ffffff" stroke="#3c3c3c" stroke-width="1"/>
<line x1="335.5" y1="297" x2="335.5" y2="313" stroke="#505050" stroke-width="1"/>
<rect x="333.5" y="299.5" width="3" height="8" fill="#6e6e6e" stroke="#3c3c3c" stroke-width="1"/>
<line x1="339.5" y1="299" x2="339.5" y2="311" stroke="#505050" stroke-width="1"/>
<rect x="337.5" y="306.5" width="3" height="1" fill="#ffffff" stroke="#3c3c3c" stroke-width="1"/>
<line x1="344.5" y1="270" x2="344.5" y2="306" stroke="#505050" stroke-width="1"/>
<rect x="342.5" y="281.5" width="3" height="23" fill="#ffffff" stroke="#3c3c3c" stroke-width="1"/>
<line x1="349.5" y1="266" x2="349.5" y2="290" stroke="#505050" stroke-width="1"/>
<rect x="347.5" y="281.5" width="3" height="6" fill="#6e6e6e" stroke="#3c3c3c" stroke-width="1"/>
<line x1="354.5" y1="274" x2="354.5" y2="290" stroke="#505050" stroke-width="1"/>
<rect x="352.5" y="278.5" width="3" height="9" fill="#ffffff" stroke="#3c3c3c" stroke-width="1"/>
<line x1="359.5" y1="278" x2="359.5" y2="310" stroke="#505050" stroke-width="1"/>
<rect x="357.5" y="278.5" width="3" height="21" fill="#6e6e6e" stroke="#3c3c3c" stroke-width="1"/>
<line x1="363.5" y1="297" x2="363.5" y2="320" stroke="#505050" stroke-width="1"/>
<rect x="361.5" y="298.5" width="3" height="1" fill="#6e6e6e" stroke="#3c3c3c" stroke-width="1"/>
<line x1="368.5" y1="294" x2="368.5" y2="305" stroke="#505050" stroke-width="1"/>
<rect x="366.5" y="298.5" width="3" height="1" fill="#6e6e6e" stroke="#3c3c3c" stroke-width="1"/>
<line x1="373.5" y1="285" x2="373.5" y2="306" stroke="#505050" stroke-width="1"/>
<rect x="371.5" y="298.5" width="3" height="4" fill="#6e6e6e" stroke="#3c3c3c" stroke-width="1"/>
<line x1="378.5" y1="286" x2="378.5" y2="304" stroke="#505050" stroke-width="1"/>
<rect x="376.5" y="294.5" width="3" height="8" fill="#ffffff" stroke="#3c3c3c" stroke-width="1"/>
<line x1="383.5" y1="296" x2="383.5" y2="320" stroke="#505050" stroke-width="1"/>
<rect x="381.5" y="300.5" width="3" height="16" fill="#6e6e6e" stroke="#3c3c3c" stroke-width="1"/>
<line x1="387.5" y1="308" x2="387.5" y2="335" stroke="#505050" stroke-width="1"/>
<rect x="385.5" y="309.5" width="3" height="7" fill="#ffffff" stroke="#3c3c3c" stroke-width="1"/>
<line x1="392.5" y1="284" x2="392.5" y2="311" stroke="#505050" stroke-width="1"/>
<rect x="390.5" y="288.5" width="3" height="20" fill="#ffffff" stroke="#3c3c3c" stroke-width="1"/>
<line x1="397.5" y1="285" x2="397.5" y2="303" stroke="#505050" stroke-width="1"/>
<rect x="395.5" y="288.5" width="3" height="1" fill="#ffffff" stroke="#3c3c3c" stroke-width="1"/>
<line x1="402.5" y1="289" x2="402.5" y2="297" stroke="#505050" stroke-width="1"/>
<rect x="400.5" y="292.5" width="3" height="1" fill="#6e6e6e" stroke="#3c3c3c" stroke-width="1"/>
<line x1="407.5" y1="271" x2="407.5" y2="296" stroke="#505050" stroke-width="1"/>
<rect x="405.5" y="271.5" width="3" height="23" fill="#ffffff" stroke="#3c3c3c" stroke-width="1"/>
<line x1="411.5" y1="252" x2="411.5" y2="277" stroke="#505050" stroke-width="1"/>
<rect x="409.5" y="254.5" width="3" height="16" fill="#ffffff" stroke="#3c3c3c" stroke-width="1"/>
<line x1="416.5" y1="251" x2="416.5" y2="261" stroke="#505050" stroke-width="1"/>
<rect x="414.5" y="254.5" width="3" height="5" fill="#6e6e6e" stroke="#3c3c3c" stroke-width="1"/>
<line x1="421.5" y1="272" x2="421.5" y2="294" stroke="#505050" stroke-width="1"/>
<rect x="419.5" y="278.5" width="3" height="14" fill="#6e6e6e" stroke="#3c3c3c" stroke-width="1"/>
<line x1="426.5" y1="285" x2="426.5" y2="314" stroke="#505050" stroke-width="1"/>
<rect x="424.5" y="292.5" width="3" height="13" fill="#6e6e6e" stroke="#3c3c3c" stroke-width="1"/>
<line x1="431.5" y1="297" x2="431.5" y2="314" stroke="#505050" stroke-width="1"/>
<rect x="429.5" y="302.5" width="3" height="3" fill="#ffffff" stroke="#3c3c3c" stroke-width="1"/>
<line x1="435.5" y1="292" x2="435.5" y2="305" stroke="#505050" stroke-width="1"/>
<rect x="433.5" y="298.5" width="3" height="3" fill="#ffffff" stroke="#3c3c3c" stroke-width="1"/>
<line x1="440.5" y1="212" x2="440.5" y2="246" stroke="#505050" stroke-width="1"/>
<rect x="438.5" y="214.5" width="3" height="30" fill="#ffffff" stroke="#3c3c3c" stroke-width="1"/>
<line x1="445.5" y1="195" x2="445.5" y2="216" stroke="#505050" stroke-width="1"/>
<rect x="443.5" y="201.5" width="3" height="12" fill="#ffffff" stroke="#3c3c3c" stroke-width="1"/>
<line x1="450.5" y1="190" x2="450.5" y2="205" stroke="#505050" stroke-width="1"/>
<rect x="448.5" y="193.5" width="3" height="7" fill="#ffffff" stroke="#3c3c3c" stroke-width="1"/>
<line x1="455.5" y1="190" x2="455.5" y2="229" stroke="#505050" stroke-width="1"/>
<rect x="453.5" y="193.5" width="3" height="35" fill="#6e6e6e" stroke="#3c3c3c" stroke-width="1"/>
<line x1="459.5" y1="202" x2="459.5" y2="220" stroke="#505050" stroke-width="1"/>
<rect x="457.5" y="207.5" width="3" height="7" fill="#6e6e6e" stroke="#3c3c3c" stroke-width="1"/>
<line x1="464.5" y1="215" x2="464.5" y2="234" stroke="#505050" stroke-width="1"/>
<rect x="462.5" y="215.5" width="3" height="15" fill="#6e6e6e" stroke="#3c3c3c" stroke-width="1"/>
<line x1="469.5" y1="224" x2="469.5" y2="244" stroke="#505050" stroke-width="1"/>
<rect x="467.5" y="230.5" width="3" height="12" fill="#6e6e6e" stroke="#3c3c3c" stroke-width="1"/>
<line x1="474.5" y1="237" x2="474.5" y2="261" stroke="#505050" stroke-width="1"/>
<rect x="472.5" y="238.5" width="3" height="4" fill="#ffffff" stroke="#3c3c3c" stroke-width="1"/>
<line x1="479.5" y1="210" x2="479.5" y2="241" stroke="#505050" stroke-width="1"/>
<rect x="477.5" y="214.5" width="3" height="22" fill="#ffffff" stroke="#3c3c3c" stroke-width="1"/>
<line x1="483.5" y1="213" x2="483.5" y2="221" stroke="#505050" stroke-width="1"/>
<rect x="481.5" y="213.5" width="3" height="1" fill="#6e6e6e" stroke="#3c3c3c" stroke-width="1"/>
<line x1="488.5" y1="199" x2="488.5" y2="216" stroke="#505050" stroke-width="1"/>
<rect x="486.5" y="202.5" width="3" height="11" fill="#ffffff" stroke="#3c3c3c" stroke-width="1"/>
<line x1="493.5" y1="193" x2="493.5" y2="207" stroke="#505050" stroke-width="1"/>
<rect x="491.5" y="196.5" width="3" height="5" fill="#ffffff" stroke="#3c3c3c" stroke-width="1"/>
<line x1="498.5" y1="196" x2="498.5" y2="217" stroke="#505050" stroke-width="1"/>
<rect x="496.5" y="196.5" width="3" height="13" fill="#6e6e6e" stroke="#3c3c3c" stroke-width="1"/>
<line x1="503.5" y1="193" x2="503.5" y2="221" stroke="#505050" stroke-width="1"/>
<rect x="501.5" y="199.5" width="3" height="10" fill="#ffffff" stroke="#3c3c3c" stroke-width="1"/>
<line x1="507.5" y1="167" x2="507.5" y2="209" stroke="#505050" stroke-width="1"/>
<rect x="505.5" y="174.5" width="3" height="24" fill="#ffffff" stroke="#3c3c3c" stroke-width="1"/>
<line x1="512.5" y1="167" x2="512.5" y2="182" stroke="#505050" stroke-width="1"/>
<rect x="510.5" y="173.5" width="3" height="1" fill="#6e6e6e" stroke="#3c3c3c" stroke-width="1"/>
<line x1="517.5" y1="166" x2="517.5" y2="187" stroke="#505050" stroke-width="1"/>
<rect x="515.5" y="170.5" width="3" height="10" fill="#6e6e6e" stroke="#3c3c3c" stroke-width="1"/>
<line x1="522.5" y1="168" x2="522.5" y2="193" stroke="#505050" stroke-width="1"/>
<rect x="520.5" y="174.5" width="3" height="6" fill="#ffffff" stroke="#3c3c3c" stroke-width="1"/>
<line x1="527.5" y1="172" x2="527.5" y2="196" stroke="#505050" stroke-width="1"/>
<rect x="525.5" y="173.5" width="3" height="19" fill="#6e6e6e" stroke="#3c3c3c" stroke-width="1"/>
<line x1="531.5" y1="182" x2="531.5" y2="196" stroke="#505050" stroke-width="1"/>
<rect x="529.5" y="186.5" width="3" height="6" fill="#ffffff" stroke="#3c3c3c" stroke-width="1"/>
<line x1="536.5" y1="166" x2="536.5" y2="180" stroke="#505050" stroke-width="1"/>
<rect x="534.5" y="172.5" width="3" height="1" fill="#6e6e6e" stroke="#3c3c3c" stroke-width="1"/>
<line x1="541.5" y1="155" x2="541.5" y2="175" stroke="#505050" stroke-width="1"/>
<rect x="539.5" y="160.5" width="3" height="11" fill="#ffffff" stroke="#3c3c3c" stroke-width="1"/>
<line x1="546.5" y1="157" x2="546.5" y2="172" stroke="#505050" stroke-width="1"/>
<rect x="544.5" y="161.5" width="3" height="3" fill="#6e6e6e" stroke="#3c3c3c" stroke-width="1"/>
<line x1="551.5" y1="161" x2="551.5" y2="182" stroke="#505050" stroke-width="1"/>
<rect x="549.5" y="164.5" width="3" height="1" fill="#6e6e6e" stroke="#3c3c3c" stroke-width="1"/>
<line x1="555.5" y1="143" x2="555.5" y2="159" stroke="#505050" stroke-width="1"/>
<rect x="553.5" y="147.5" width="3" height="5" fill="#ffffff" stroke="#3c3c3c" stroke-width="1"/>
<line x1="560.5" y1="114" x2="560.5" y2="152" stroke="#505050" stroke-width="1"/>
<rect x="558.5" y="116.5" width="3" height="30" fill="#ffffff" stroke="#3c3c3c" stroke-width="1"/>
<line x1="565.5" y1="102" x2="565.5" y2="117" stroke="#505050" stroke-width="1"/>
<rect x="563.5" y="110.5" width="3" height="5" fill="#ffffff" stroke="#3c3c3c" stroke-width="1"/>
<line x1="570.5" y1="109" x2="570.5" y2="133" stroke="#505050" stroke-width="1"/>
<rect x="568.5" y="110.5" width="3" height="20" fill="#6e6e6e" stroke="#3c3c3c" stroke-width="1"/>
<line x1="575.5" y1="119" x2="575.5" y2="139" stroke="#505050" stroke-width="1"/>
<rect x="573.5" y="120.5" width="3" height="16" fill="#6e6e6e" stroke="#3c3c3c" stroke-width="1"/>
<line x1="579.5" y1="123" x2="579.5" y2="142" stroke="#505050" stroke-width="1"/>
<rect x="577.5" y="129.5" width="3" height="7" fill="#ffffff" stroke="#3c3c3c" stroke-width="1"/>
<line x1="584.5" y1="129" x2="584.5" y2="142" stroke="#505050" stroke-width="1"/>
<rect x="582.5" y="129.5" width="3" height="2" fill="#6e6e6e" stroke="#3c3c3c" stroke-width="1"/>
<line x1="589.5" y1="126" x2="589.5" y2="137" stroke="#505050" stroke-width="1"/>
<rect x="587.5" y="132.5" width="3" height="2" fill="#6e6e6e" stroke="#3c3c3c" stroke-width="1"/>
<line x1="594.5" y1="135" x2="594.5" y2="149" stroke="#505050" stroke-width="1"/>
<rect x="592.5" y="140.5" width="3" height="7" fill="#ffffff" stroke="#3c3c3c" stroke-width="1"/>
<line x1="599.5" y1="140" x2="599.5" y2="155" stroke="#505050" stroke-width="1"/>
<rect x="597.5" y="140.5" width="3" height="12" fill="#6e6e6e" stroke="#3c3c3c" stroke-width="1"/>
<line x1="603.5" y1="146" x2="603.5" y2="165" stroke="#505050" stroke-width="1"/>
<rect x="601.5" y="152.5" width="3" height="2" fill="#6e6e6e" stroke="#3c3c3c" stroke-width="1"/>
<line x1="608.5" y1="147" x2="608.5" y2="168" stroke="#505050" stroke-width="1"/>
<rect x="606.5" y="150.5" width="3" height="4" fill="#ffffff" stroke="#3c3c3c" stroke-width="1"/>
<line x1="613.5" y1="119" x2="613.5" y2="141" stroke="#505050" stroke-width="1"/>
<rect x="611.5" y="121.5" width="3" height="17" fill="#ffffff" stroke="#3c3c3c" stroke-width="1"/>
<line x1="618.5" y1="119" x2="618.5" y2="140" stroke="#505050" stroke-width="1"/>
<rect x="616.5" y="121.5" width="3" height="17" fill="#6e6e6e" stroke="#3c3c3c" stroke-width="1"/>
<line x1="623.5" y1="135" x2="623.5" y2="157" stroke="#505050" stroke-width="1"/>
<rect x="621.5" y="137.5" width="3" height="7" fill="#6e6e6e" stroke="#3c3c3c" stroke-width="1"/>
<line x1="627.5" y1="135" x2="627.5" y2="147" stroke="#505050" stroke-width="1"/>
<rect x="625.5" y="142.5" width="3" height="2" fill="#ffffff" stroke="#3c3c3c" stroke-width="1"/>
<line x1="632.5" y1="151" x2="632.5" y2="166" stroke="#505050" stroke-width="1"/>
<rect x="630.5" y="152.5" width="3" height="9" fill="#6e6e6e" stroke="#3c3c3c" stroke-width="1"/>
<line x1="637.5" y1="142" x2="637.5" y2="164" stroke="#505050" stroke-width="1"/>
<rect x="635.5" y="144.5" width="3" height="17" fill="#ffffff" stroke="#3c3c3c" stroke-width="1"/>
<line x1="642.5" y1="138" x2="642.5" y2="149" stroke="#505050" stroke-width="1"/>
<rect x="640.5" y="144.5" width="3" height="2" fill="#6e6e6e" stroke="#3c3c3c" stroke-width="1"/>
<line x1="647.5" y1="104" x2="647.5" y2="148" stroke="#505050" stroke-width="1"/>
<rect x="645.5" y="105.5" width="3" height="42" fill="#ffffff" stroke="#3c3c3c" stroke-width="1"/>
<line x1="651.5" y1="117" x2="651.5" y2="143" stroke="#505050" stroke-width="1"/>
<rect x="649.5" y="118.5" width="3" height="14" fill="#6e6e6e" stroke="#3c3c3c" stroke-width="1"/>
<line x1="656.5" y1="132" x2="656.5" y2="145" stroke="#505050" stroke-width="1"/>
<rect x="654.5" y="133.5" width="3" height="4" fill="#6e6e6e" stroke="#3c3c3c" stroke-width="1"/>
<line x1="661.5" y1="123" x2="661.5" y2="139" stroke="#505050" stroke-width="1"/>
<rect x="659.5" y="128.5" width="3" height="9" fill="#ffffff" stroke="#3c3c3c" stroke-width="1"/>
<line x1="666.5" y1="126" x2="666.5" y2="141" stroke="#505050" stroke-width="1"/>
<rect x="664.5" y="131.5" width="3" height="6" fill="#ffffff" stroke="#3c3c3c" stroke-width="1"/>
<line x1="671.5" y1="119" x2="671.5" y2="131" stroke="#505050" stroke-width="1"/>
<rect x="669.5" y="121.5" width="3" height="9" fill="#ffffff" stroke="#3c3c3c" stroke-width="1"/>
<line x1="675.5" y1="119" x2="675.5" y2="127" stroke="#505050" stroke-width="1"/>
<rect x="673.5" y="121.5" width="3" height="1" fill="#6e6e6e" stroke="#3c3c3c" stroke-width="1"/>
<line x1="680.5" y1="125" x2="680.5" y2="134" stroke="#505050" stroke-width="1"/>
<rect x="678.5" y="126.5" width="3" height="4" fill="#ffffff" stroke="#3c3c3c" stroke-width="1"/>
<line x1="685.5" y1="122" x2="685.5" y2="131" stroke="#505050" stroke-width="1"/>
<rect x="683.5" y="123.5" width="3" height="2" fill="#ffffff" stroke="#3c3c3c" stroke-width="1"/>
<line x1="690.5" y1="117" x2="690.5" y2="129" stroke="#505050" stroke-width="1"/>
<rect x="688.5" y="121.5" width="3" height="6" fill="#ffffff" stroke="#3c3c3c" stroke-width="1"/>
<line x1="695.5" y1="96" x2="695.5" y2="122" stroke="#505050" stroke-width="1"/>
<rect x="693.5" y="101.5" width="3" height="20" fill="#ffffff" stroke="#3c3c3c" stroke-width="1"/>
<line x1="699.5" y1="78" x2="699.5" y2="101" stroke="#505050" stroke-width="1"/>
<rect x="697.5" y="79.5" width="3" height="17" fill="#ffffff" stroke="#3c3c3c" stroke-width="1"/>
<line x1="704.5" y1="72" x2="704.5" y2="98" stroke="#505050" stroke-width="1"/>
<rect x="702.5" y="79.5" width="3" height="11" fill="#6e6e6e" stroke="#3c3c3c" stroke-width="1"/>
<line x1="709.5" y1="83" x2="709.5" y2="94" stroke="#505050" stroke-width="1"/>
<rect x="707.5" y="87.5" width="3" height="3" fill="#ffffff" stroke="#3c3c3c" stroke-width="1"/>
<line x1="714.5" y1="87" x2="714.5" y2="102" stroke="#505050" stroke-width="1"/>
<rect x="712.5" y="87.5" width="3" height="10" fill="#6e6e6e" stroke="#3c3c3c" stroke-width="1"/>
<line x1="719.5" y1="88" x2="719.5" y2="109" stroke="#505050" stroke-width="1"/>
<rect x="717.5" y="96.5" width="3" height="1" fill="#6e6e6e" stroke="#3c3c3c" stroke-width="1"/>
<line x1="723.5" y1="91" x2="723.5" y2="104" stroke="#505050" stroke-width="1"/>
<rect x="721.5" y="95.5" width="3" height="2" fill="#ffffff" stroke="#3c3c3c" stroke-width="1"/>
<line x1="728.5" y1="82" x2="728.5" y2="95" stroke="#505050" stroke-width="1"/>
<rect x="726.5" y="93.5" width="3" height="1" fill="#ffffff" stroke="#3c3c3c" stroke-width="1"/>
<line x1="733.5" y1="76" x2="733.5" y2="144" stroke="#505050" stroke-width="1"/>
<rect x="731.5" y="93.5" width="3" height="48" fill="#6e6e6e" stroke="#3c3c3c" stroke-width="1"/>
<line x1="738.5" y1="158" x2="738.5" y2="210" stroke="#505050" stroke-width="1"/>
<rect x="736.5" y="172.5" width="3" height="37" fill="#6e6e6e" stroke="#3c3c3c" stroke-width="1"/>
<line x1="743.5" y1="173" x2="743.5" y2="210" stroke="#505050" stroke-width="1"/>
<rect x="741.5" y="186.5" width="3" height="23" fill="#ffffff" stroke="#3c3c3c" stroke-width="1"/>
<line x1="747.5" y1="180" x2="747.5" y2="199" stroke="#505050" stroke-width="1"/>
<rect x="745.5" y="185.5" width="3" height="5" fill="#6e6e6e" stroke="#3c3c3c" stroke-width="1"/>
<line x1="752.5" y1="160" x2="752.5" y2="194" stroke="#505050" stroke-width="1"/>
<rect x="750.5" y="161.5" width="3" height="30" fill="#ffffff" stroke="#3c3c3c" stroke-width="1"/>
<line x1="757.5" y1="135" x2="757.5" y2="150" stroke="#505050" stroke-width="1"/>
<rect x="755.5" y="142.5" width="3" height="2" fill="#ffffff" stroke="#3c3c3c" stroke-width="1"/>
<line x1="762.5" y1="119" x2="762.5" y2="143" stroke="#505050" stroke-width="1"/>
<rect x="760.5" y="122.5" width="3" height="20" fill="#ffffff" stroke="#3c3c3c" stroke-width="1"/>
<line x1="767.5" y1="112" x2="767.5" y2="126" stroke="#505050" stroke-width="1"/>
<rect x="765.5" y="118.5" width="3" height="3" fill="#ffffff" stroke="#3c3c3c" stroke-width="1"/>
<line x1="771.5" y1="114" x2="771.5" y2="126" stroke="#505050" stroke-width="1"/>
<rect x="769.5" y="115.5" width="3" height="2" fill="#ffffff" stroke="#3c3c3c" stroke-width="1"/>
<line x1="776.5" y1="131" x2="776.5" y2="173" stroke="#505050" stroke-width="1"/>
<rect x="774.5" y="139.5" width="3" height="29" fill="#6e6e6e" stroke="#3c3c3c" stroke-width="1"/>
<line x1="781.5" y1="162" x2="781.5" y2="201" stroke="#505050" stroke-width="1"/>
<rect x="779.5" y="168.5" width="3" height="21" fill="#6e6e6e" stroke="#3c3c3c" stroke-width="1"/>
<line x1="786.5" y1="181" x2="786.5" y2="207" stroke="#505050" stroke-width="1"/>
<rect x="784.5" y="190.5" width="3" height="8" fill="#6e6e6e" stroke="#3c3c3c" stroke-width="1"/>
<line x1="791.5" y1="182" x2="791.5" y2="201" stroke="#505050" stroke-width="1"/>
<rect x="789.5" y="199.5" width="3" height="1" fill="#6e6e6e" stroke="#3c3c3c" stroke-width="1"/>
<line x1="795.5" y1="177" x2="795.5" y2="197" stroke="#505050" stroke-width="1"/>
<rect x="793.5" y="184.5" width="3" height="5" fill="#6e6e6e" stroke="#3c3c3c" stroke-width="1"/>
<line x1="800.5" y1="160" x2="800.5" y2="192" stroke="#505050" stroke-width="1"/>
<rect x="798.5" y="161.5" width="3" height="28" fill="#ffffff" stroke="#3c3c3c" stroke-width="1"/>
<line x1="805.5" y1="151" x2="805.5" y2="164" stroke="#505050" stroke-width="1"/>
<rect x="803.5" y="157.5" width="3" height="4" fill="#ffffff" stroke="#3c3c3c" stroke-width="1"/>
<line x1="810.5" y1="144" x2="810.5" y2="157" stroke="#505050" stroke-width="1"/>
<rect x="808.5" y="155.5" width="3" height="1" fill="#6e6e6e" stroke="#3c3c3c" stroke-width="1"/>
<line x1="815.5" y1="132" x2="815.5" y2="164" stroke="#505050" stroke-width="1"/>
<rect x="813.5" y="139.5" width="3" height="22" fill="#ffffff" stroke="#3c3c3c" stroke-width="1"/>
<line x1="819.5" y1="122" x2="819.5" y2="148" stroke="#505050" stroke-width="1"/>
<rect x="817.5" y="131.5" width="3" height="7" fill="#ffffff" stroke="#3c3c3c" stroke-width="1"/>
<line x1="824.5" y1="128" x2="824.5" y2="142" stroke="#505050" stroke-width="1"/>
<rect x="822.5" y="131.5" width="3" height="3" fill="#6e6e6e" stroke="#3c3c3c" stroke-width="1"/>
<line x1="829.5" y1="134" x2="829.5" y2="144" stroke="#505050" stroke-width="1"/>
<rect x="827.5" y="136.5" width="3" height="1" fill="#6e6e6e" stroke="#3c3c3c" stroke-width="1"/>
<line x1="834.5" y1="100" x2="834.5" y2="114" stroke="#505050" stroke-width="1"/>
<rect x="832.5" y="106.5" width="3" height="6" fill="#ffffff" stroke="#3c3c3c" stroke-width="1"/>
<line x1="839.5" y1="102" x2="839.5" y2="119" stroke="#505050" stroke-width="1"/>
<rect x="837.5" y="106.5" width="3" height="11" fill="#6e6e6e" stroke="#3c3c3c" stroke-width="1"/>
<line x1="843.5" y1="102" x2="843.5" y2="128" stroke="#505050" stroke-width="1"/>
<rect x="841.5" y="108.5" width="3" height="9" fill="#ffffff" stroke="#3c3c3c" stroke-width="1"/>
<line x1="848.5" y1="99" x2="848.5" y2="110" stroke="#505050" stroke-width="1"/>
<rect x="846.5" y="104.5" width="3" height="3" fill="#ffffff" stroke="#3c3c3c" stroke-width="1"/>
<line x1="853.5" y1="93" x2="853.5" y2="112" stroke="#505050" stroke-width="1"/>
<rect x="851.5" y="98.5" width="3" height="7" fill="#ffffff" stroke="#3c3c3c" stroke-width="1"/>
<line x1="858.5" y1="80" x2="858.5" y2="101" stroke="#505050" stroke-width="1"/>
<rect x="856.5" y="81.5" width="3" height="17" fill="#ffffff" stroke="#3c3c3c" stroke-width="1"/>
<line x1="863.5" y1="72" x2="863.5" y2="88" stroke="#505050" stroke-width="1"/>
<rect x="861.5" y="74.5" width="3" height="7" fill="#ffffff" stroke="#3c3c3c" stroke-width="1"/>
<line x1="867.5" y1="72" x2="867.5" y2="79" stroke="#505050" stroke-width="1"/>
<rect x="865.5" y="74.5" width="3" height="1" fill="#6e6e6e" stroke="#3c3c3c" stroke-width="1"/>
</g>
<line x1="0" y1="497.5" x2="1024" y2="497.5" stroke="#e4e6ec" stroke-width="1.3"/>
<g clip-path="url(#cm)">
<rect x="-3.20" y="614.7" width="3.6" height="1.3" fill="#fa5256"/>
<rect x="1.60" y="613.4" width="3.6" height="1.3" fill="#22ab94"/>
<rect x="6.40" y="600.0" width="3.6" height="14.7" fill="#22ab94"/>
<rect x="11.20" y="593.4" width="3.6" height="21.3" fill="#22ab94"/>
<rect x="16.00" y="599.4" width="3.6" height="15.3" fill="#acdfd6"/>
<rect x="20.80" y="597.3" width="3.6" height="17.4" fill="#22ab94"/>
<rect x="25.60" y="588.7" width="3.6" height="26.0" fill="#22ab94"/>
<rect x="30.40" y="585.6" width="3.6" height="29.1" fill="#22ab94"/>
<rect x="35.20" y="577.0" width="3.6" height="37.7" fill="#22ab94"/>
<rect x="40.00" y="575.2" width="3.6" height="39.5" fill="#22ab94"/>
<rect x="44.80" y="579.8" width="3.6" height="34.9" fill="#acdfd6"/>
<rect x="49.60" y="584.8" width="3.6" height="29.9" fill="#acdfd6"/>
<rect x="54.40" y="592.6" width="3.6" height="22.1" fill="#acdfd6"/>
<rect x="59.20" y="601.7" width="3.6" height="13.0" fill="#acdfd6"/>
<rect x="64.00" y="606.4" width="3.6" height="8.3" fill="#acdfd6"/>
<rect x="68.80" y="614.7" width="3.6" height="1.0" fill="#fa5256"/>
<rect x="73.60" y="613.7" width="3.6" height="1.0" fill="#22ab94"/>
<rect x="78.40" y="610.3" width="3.6" height="4.4" fill="#22ab94"/>
<rect x="83.20" y="610.8" width="3.6" height="3.9" fill="#acdfd6"/>
<rect x="88.00" y="611.9" width="3.6" height="2.8" fill="#acdfd6"/>
<rect x="92.80" y="613.0" width="3.6" height="1.7" fill="#acdfd6"/>
<rect x="97.60" y="614.7" width="3.6" height="2.9" fill="#fa5256"/>
<rect x="102.40" y="614.7" width="3.6" height="2.1" fill="#fccbcd"/>
<rect x="107.20" y="612.4" width="3.6" height="2.3" fill="#22ab94"/>
<rect x="112.00" y="608.2" width="3.6" height="6.5" fill="#22ab94"/>
<rect x="116.80" y="607.2" width="3.6" height="7.5" fill="#22ab94"/>
<rect x="121.60" y="610.3" width="3.6" height="4.4" fill="#acdfd6"/>
<rect x="126.40" y="610.3" width="3.6" height="4.4" fill="#22ab94"/>
<rect x="131.20" y="606.4" width="3.6" height="8.3" fill="#22ab94"/>
<rect x="136.00" y="604.6" width="3.6" height="10.1" fill="#22ab94"/>
<rect x="140.80" y="602.0" width="3.6" height="12.7" fill="#22ab94"/>
<rect x="145.60" y="599.4" width="3.6" height="15.3" fill="#22ab94"/>
<rect x="150.40" y="602.5" width="3.6" height="12.2" fill="#acdfd6"/>
<rect x="155.20" y="603.8" width="3.6" height="10.9" fill="#acdfd6"/>
<rect x="160.00" y="609.0" width="3.6" height="5.7" fill="#acdfd6"/>
<rect x="164.80" y="610.3" width="3.6" height="4.4" fill="#acdfd6"/>
<rect x="169.60" y="614.7" width="3.6" height="2.1" fill="#fa5256"/>
<rect x="174.40" y="614.7" width="3.6" height="4.7" fill="#fa5256"/>
<rect x="179.20" y="614.7" width="3.6" height="2.9" fill="#fccbcd"/>
<rect x="184.00" y="614.7" width="3.6" height="2.1" fill="#fccbcd"/>
<rect x="188.80" y="608.2" width="3.6" height="6.5" fill="#22ab94"/>
<rect x="193.60" y="603.8" width="3.6" height="10.9" fill="#22ab94"/>
<rect x="198.40" y="602.5" width="3.6" height="12.2" fill="#22ab94"/>
<rect x="203.20" y="597.3" width="3.6" height="17.4" fill="#22ab94"/>
<rect x="208.00" y="590.3" width="3.6" height="24.4" fill="#22ab94"/>
<rect x="212.80" y="592.0" width="3.6" height="22.7" fill="#acdfd6"/>
<rect x="217.60" y="589.5" width="3.6" height="25.2" fill="#22ab94"/>
<rect x="222.40" y="590.8" width="3.6" height="23.9" fill="#acdfd6"/>
<rect x="227.20" y="599.9" width="3.6" height="14.8" fill="#acdfd6"/>
<rect x="232.00" y="607.2" width="3.6" height="7.5" fill="#acdfd6"/>
<rect x="236.80" y="610.8" width="3.6" height="3.9" fill="#acdfd6"/>
<rect x="241.60" y="612.1" width="3.6" height="2.6" fill="#acdfd6"/>
<rect x="246.40" y="609.0" width="3.6" height="5.7" fill="#22ab94"/>
<rect x="251.20" y="604.6" width="3.6" height="10.1" fill="#22ab94"/>
<rect x="256.00" y="597.8" width="3.6" height="16.9" fill="#22ab94"/>
<rect x="260.80" y="608.2" width="3.6" height="6.5" fill="#acdfd6"/>
<rect x="265.60" y="614.0" width="3.6" height="0.7" fill="#acdfd6"/>
<rect x="270.40" y="614.7" width="3.6" height="4.7" fill="#fa5256"/>
<rect x="275.20" y="614.7" width="3.6" height="8.6" fill="#fa5256"/>
<rect x="280.00" y="614.7" width="3.6" height="9.4" fill="#fa5256"/>
<rect x="284.80" y="614.7" width="3.6" height="9.9" fill="#fccbcd"/>
<rect x="289.60" y="614.7" width="3.6" height="10.7" fill="#fa5256"/>
<rect x="294.40" y="614.7" width="3.6" height="10.7" fill="#fccbcd"/>
<rect x="299.20" y="614.7" width="3.6" height="12.5" fill="#fa5256"/>
<rect x="304.00" y="614.7" width="3.6" height="11.3" fill="#fccbcd"/>
<rect x="308.80" y="614.7" width="3.6" height="11.3" fill="#fa5256"/>
<rect x="313.60" y="614.7" width="3.6" height="8.1" fill="#fccbcd"/>
<rect x="318.40" y="614.7" width="3.6" height="9.9" fill="#fa5256"/>
<rect x="323.20" y="614.7" width="3.6" height="9.9" fill="#fccbcd"/>
<rect x="328.00" y="614.7" width="3.6" height="9.2" fill="#fccbcd"/>
<rect x="332.80" y="614.7" width="3.6" height="10.7" fill="#fa5256"/>
<rect x="337.60" y="614.7" width="3.6" height="9.9" fill="#fccbcd"/>
<rect x="342.40" y="614.7" width="3.6" height="5.5" fill="#fccbcd"/>
<rect x="347.20" y="614.7" width="3.6" height="2.9" fill="#fccbcd"/>
<rect x="352.00" y="613.7" width="3.6" height="1.0" fill="#22ab94"/>
<rect x="356.80" y="614.7" width="3.6" height="2.1" fill="#fa5256"/>
<rect x="361.60" y="614.7" width="3.6" height="3.4" fill="#fa5256"/>
<rect x="366.40" y="614.7" width="3.6" height="4.2" fill="#fa5256"/>
<rect x="371.20" y="614.7" width="3.6" height="4.7" fill="#fa5256"/>
<rect x="376.00" y="614.7" width="3.6" height="3.9" fill="#fccbcd"/>
<rect x="380.80" y="614.7" width="3.6" height="8.1" fill="#fa5256"/>
<rect x="385.60" y="614.7" width="3.6" height="8.1" fill="#fa5256"/>
<rect x="390.40" y="614.7" width="3.6" height="4.2" fill="#fccbcd"/>
<rect x="395.20" y="614.7" width="3.6" height="1.3" fill="#fccbcd"/>
<rect x="400.00" y="614.7" width="3.6" height="1.3" fill="#fccbcd"/>
<rect x="404.80" y="610.3" width="3.6" height="4.4" fill="#22ab94"/>
<rect x="409.60" y="603.8" width="3.6" height="10.9" fill="#22ab94"/>
<rect x="414.40" y="602.5" width="3.6" height="12.2" fill="#22ab94"/>
<rect x="419.20" y="608.2" width="3.6" height="6.5" fill="#acdfd6"/>
<rect x="424.00" y="614.5" width="3.6" height="0.2" fill="#acdfd6"/>
<rect x="428.80" y="614.7" width="3.6" height="3.9" fill="#fa5256"/>
<rect x="433.60" y="614.7" width="3.6" height="5.3" fill="#fa5256"/>
<rect x="438.40" y="604.3" width="3.6" height="10.4" fill="#22ab94"/>
<rect x="443.20" y="592.0" width="3.6" height="22.7" fill="#22ab94"/>
<rect x="448.00" y="585.0" width="3.6" height="29.7" fill="#22ab94"/>
<rect x="452.80" y="588.6" width="3.6" height="26.1" fill="#acdfd6"/>
<rect x="457.60" y="590.7" width="3.6" height="24.0" fill="#acdfd6"/>
<rect x="462.40" y="596.0" width="3.6" height="18.7" fill="#acdfd6"/>
<rect x="467.20" y="603.2" width="3.6" height="11.5" fill="#acdfd6"/>
<rect x="472.00" y="608.0" width="3.6" height="6.7" fill="#acdfd6"/>
<rect x="476.80" y="607.1" width="3.6" height="7.6" fill="#22ab94"/>
<rect x="481.60" y="607.1" width="3.6" height="7.6" fill="#acdfd6"/>
<rect x="486.40" y="605.8" width="3.6" height="8.9" fill="#22ab94"/>
<rect x="491.20" y="605.0" width="3.6" height="9.7" fill="#22ab94"/>
<rect x="496.00" y="608.0" width="3.6" height="6.7" fill="#acdfd6"/>
<rect x="500.80" y="609.0" width="3.6" height="5.7" fill="#acdfd6"/>
<rect x="505.60" y="605.0" width="3.6" height="9.7" fill="#22ab94"/>
<rect x="510.40" y="604.3" width="3.6" height="10.4" fill="#22ab94"/>
<rect x="515.20" y="605.8" width="3.6" height="8.9" fill="#acdfd6"/>
<rect x="520.00" y="606.4" width="3.6" height="8.3" fill="#acdfd6"/>
<rect x="524.80" y="612.0" width="3.6" height="2.7" fill="#acdfd6"/>
<rect x="529.60" y="614.2" width="3.6" height="0.5" fill="#acdfd6"/>
<rect x="534.40" y="614.2" width="3.6" height="0.5" fill="#22ab94"/>
<rect x="539.20" y="612.0" width="3.6" height="2.7" fill="#22ab94"/>
<rect x="544.00" y="613.0" width="3.6" height="1.7" fill="#acdfd6"/>
<rect x="548.80" y="614.3" width="3.6" height="0.4" fill="#acdfd6"/>
<rect x="553.60" y="612.0" width="3.6" height="2.7" fill="#22ab94"/>
<rect x="558.40" y="605.8" width="3.6" height="8.9" fill="#22ab94"/>
<rect x="563.20" y="601.1" width="3.6" height="13.6" fill="#22ab94"/>
<rect x="568.00" y="603.8" width="3.6" height="11.0" fill="#acdfd6"/>
<rect x="572.80" y="608.0" width="3.6" height="6.7" fill="#acdfd6"/>
<rect x="577.60" y="611.0" width="3.6" height="3.7" fill="#acdfd6"/>
<rect x="582.40" y="613.6" width="3.6" height="1.1" fill="#acdfd6"/>
<rect x="587.20" y="614.7" width="3.6" height="2.6" fill="#fa5256"/>
<rect x="592.00" y="614.7" width="3.6" height="6.8" fill="#fa5256"/>
<rect x="596.80" y="614.7" width="3.6" height="11.2" fill="#fa5256"/>
<rect x="601.60" y="614.7" width="3.6" height="15.1" fill="#fa5256"/>
<rect x="606.40" y="614.7" width="3.6" height="17.2" fill="#fa5256"/>
<rect x="611.20" y="614.7" width="3.6" height="12.5" fill="#fccbcd"/>
<rect x="616.00" y="614.7" width="3.6" height="12.5" fill="#fa5256"/>
<rect x="620.80" y="614.7" width="3.6" height="13.8" fill="#fa5256"/>
<rect x="625.60" y="614.7" width="3.6" height="13.8" fill="#fa5256"/>
<rect x="630.40" y="614.7" width="3.6" height="17.7" fill="#fa5256"/>
<rect x="635.20" y="614.7" width="3.6" height="16.4" fill="#fccbcd"/>
<rect x="640.00" y="614.7" width="3.6" height="15.6" fill="#fccbcd"/>
<rect x="644.80" y="614.7" width="3.6" height="6.8" fill="#fccbcd"/>
<rect x="649.60" y="614.7" width="3.6" height="6.8" fill="#fccbcd"/>
<rect x="654.40" y="614.7" width="3.6" height="7.8" fill="#fa5256"/>
<rect x="659.20" y="614.7" width="3.6" height="6.0" fill="#fccbcd"/>
<rect x="664.00" y="614.7" width="3.6" height="5.2" fill="#fccbcd"/>
<rect x="668.80" y="614.7" width="3.6" height="4.2" fill="#fccbcd"/>
<rect x="673.60" y="614.7" width="3.6" height="3.4" fill="#fccbcd"/>
<rect x="678.40" y="614.7" width="3.6" height="3.4" fill="#fa5256"/>
<rect x="683.20" y="614.7" width="3.6" height="3.4" fill="#fccbcd"/>
<rect x="688.00" y="614.7" width="3.6" height="3.4" fill="#fccbcd"/>
<rect x="692.80" y="613.6" width="3.6" height="1.1" fill="#22ab94"/>
<rect x="697.60" y="607.7" width="3.6" height="7.0" fill="#22ab94"/>
<rect x="702.40" y="606.4" width="3.6" height="8.3" fill="#22ab94"/>
<rect x="707.20" y="605.8" width="3.6" height="8.9" fill="#22ab94"/>
<rect x="712.00" y="609.0" width="3.6" height="5.7" fill="#acdfd6"/>
<rect x="716.80" y="610.5" width="3.6" height="4.2" fill="#acdfd6"/>
<rect x="721.60" y="612.0" width="3.6" height="2.7" fill="#acdfd6"/>
<rect x="726.40" y="613.6" width="3.6" height="1.1" fill="#acdfd6"/>
<rect x="731.20" y="614.7" width="3.6" height="9.9" fill="#fa5256"/>
<rect x="736.00" y="614.7" width="3.6" height="29.5" fill="#fa5256"/>
<rect x="740.80" y="614.7" width="3.6" height="36.8" fill="#fa5256"/>
<rect x="745.60" y="614.7" width="3.6" height="39.9" fill="#fa5256"/>
<rect x="750.40" y="614.7" width="3.6" height="34.2" fill="#fccbcd"/>
<rect x="755.20" y="614.7" width="3.6" height="25.6" fill="#fccbcd"/>
<rect x="760.00" y="614.7" width="3.6" height="13.8" fill="#fccbcd"/>
<rect x="764.80" y="614.7" width="3.6" height="3.4" fill="#fccbcd"/>
<rect x="769.60" y="614.2" width="3.6" height="0.5" fill="#22ab94"/>
<rect x="774.40" y="614.7" width="3.6" height="4.7" fill="#fa5256"/>
<rect x="779.20" y="614.7" width="3.6" height="14.3" fill="#fa5256"/>
<rect x="784.00" y="614.7" width="3.6" height="20.3" fill="#fa5256"/>
<rect x="788.80" y="614.7" width="3.6" height="23.7" fill="#fa5256"/>
<rect x="793.60" y="614.7" width="3.6" height="21.1" fill="#fccbcd"/>
<rect x="798.40" y="614.7" width="3.6" height="13.8" fill="#fccbcd"/>
<rect x="803.20" y="614.7" width="3.6" height="6.5" fill="#fccbcd"/>
<rect x="808.00" y="614.7" width="3.6" height="2.1" fill="#fccbcd"/>
<rect x="812.80" y="609.8" width="3.6" height="4.9" fill="#22ab94"/>
<rect x="817.60" y="603.0" width="3.6" height="11.7" fill="#22ab94"/>
<rect x="822.40" y="601.2" width="3.6" height="13.5" fill="#22ab94"/>
<rect x="827.20" y="601.2" width="3.6" height="13.5" fill="#22ab94"/>
<rect x="832.00" y="594.7" width="3.6" height="20.0" fill="#22ab94"/>
<rect x="836.80" y="593.9" width="3.6" height="20.8" fill="#22ab94"/>
<rect x="841.60" y="593.4" width="3.6" height="21.3" fill="#22ab94"/>
<rect x="846.40" y="592.6" width="3.6" height="22.1" fill="#22ab94"/>
<rect x="851.20" y="592.1" width="3.6" height="22.6" fill="#22ab94"/>
<rect x="856.00" y="590.8" width="3.6" height="23.9" fill="#22ab94"/>
<rect x="860.80" y="589.0" width="3.6" height="25.7" fill="#22ab94"/>
<rect x="865.60" y="590.0" width="3.6" height="24.7" fill="#acdfd6"/>
<path d="M0.00,721.00 C0.65,720.33 2.60,720.25 3.90,717.00 C5.20,713.75 6.28,705.92 7.80,701.50 C9.32,697.08 11.48,692.03 13.00,690.50 C14.52,688.97 15.38,693.08 16.90,692.30 C18.42,691.52 20.37,689.48 22.10,685.80 C23.83,682.12 25.55,674.53 27.30,670.20 C29.05,665.87 30.85,664.57 32.60,659.80 C34.35,655.03 36.07,646.38 37.80,641.60 C39.53,636.82 40.83,633.93 43.00,631.10 C45.17,628.27 48.42,624.82 50.80,624.60 C53.18,624.38 55.13,628.07 57.30,629.80 C59.47,631.53 61.85,632.70 63.80,635.00 C65.75,637.30 67.27,642.28 69.00,643.60 C70.73,644.92 72.25,643.77 74.20,642.90 C76.15,642.03 77.44,639.15 80.70,638.40 C83.96,637.65 90.48,637.53 93.75,638.40 C97.02,639.27 98.56,642.63 100.30,643.60 C102.04,644.57 102.47,645.40 104.20,644.20 C105.93,643.00 108.32,638.67 110.70,636.40 C113.08,634.13 116.33,631.25 118.50,630.60 C120.67,629.95 121.97,632.50 123.70,632.50 C125.43,632.50 126.95,632.13 128.90,630.60 C130.85,629.07 133.02,626.03 135.40,623.30 C137.78,620.57 139.87,616.88 143.20,614.20 C146.53,611.52 151.63,607.85 155.40,607.20 C159.17,606.55 163.20,608.70 165.80,610.30 C168.40,611.90 169.26,614.85 171.00,616.80 C172.74,618.75 174.08,621.78 176.25,622.00 C178.42,622.22 181.61,620.27 184.00,618.10 C186.39,615.93 187.98,612.47 190.60,609.00 C193.22,605.53 196.47,602.93 199.70,597.30 C202.93,591.67 207.40,579.98 210.00,575.20 C212.60,570.42 213.13,571.63 215.30,568.60 C217.47,565.57 220.38,557.43 223.00,557.00 C225.62,556.57 228.38,563.62 231.00,566.00 C233.62,568.38 236.58,570.47 238.75,571.25 C240.92,572.03 242.04,572.01 244.00,570.70 C245.96,569.39 248.25,566.78 250.50,563.40 C252.75,560.02 255.12,550.83 257.50,550.40 C259.88,549.97 261.85,556.67 264.80,560.80 C267.75,564.93 271.73,571.72 275.20,575.20 C278.67,578.68 283.13,580.10 285.60,581.70 C288.07,583.30 288.40,583.93 290.00,584.80 C291.60,585.67 293.25,585.70 295.20,586.90 C297.15,588.10 299.32,590.48 301.70,592.00 C304.08,593.52 307.33,595.63 309.50,596.00 C311.67,596.37 312.74,593.55 314.70,594.20 C316.66,594.85 318.87,598.52 321.25,599.90 C323.63,601.28 326.18,600.98 329.00,602.50 C331.82,604.02 335.58,608.78 338.20,609.00 C340.82,609.22 342.10,605.23 344.70,603.80 C347.30,602.37 350.77,600.27 353.80,600.40 C356.83,600.53 359.65,603.30 362.90,604.60 C366.15,605.90 370.70,607.25 373.30,608.20 C375.90,609.15 376.55,609.08 378.50,610.30 C380.45,611.52 382.38,615.42 385.00,615.50 C387.62,615.58 391.37,612.10 394.20,610.80 C397.03,609.50 399.40,610.17 402.00,607.70 C404.60,605.23 407.42,598.82 409.80,596.00 C412.18,593.18 413.70,590.37 416.30,590.80 C418.90,591.23 423.02,596.23 425.40,598.60 C427.78,600.97 429.00,603.48 430.60,605.00 C432.20,606.52 433.40,610.53 435.00,607.70 C436.60,604.87 437.82,596.45 440.20,588.00 C442.58,579.55 446.05,563.27 449.30,557.00 C452.55,550.73 455.78,550.20 459.70,550.40 C463.62,550.60 469.10,557.55 472.80,558.20 C476.50,558.85 478.65,556.03 481.90,554.30 C485.15,552.57 489.05,548.77 492.30,547.80 C495.55,546.83 498.37,550.13 501.40,548.50 C504.43,546.87 507.23,540.08 510.50,538.00 C513.77,535.92 517.75,535.12 521.00,536.00 C524.25,536.88 526.75,542.52 530.00,543.30 C533.25,544.08 537.23,540.95 540.50,540.70 C543.77,540.45 547.22,542.05 549.60,541.80 C551.98,541.55 552.20,542.42 554.80,539.20 C557.40,535.98 562.60,525.20 565.20,522.50 C567.80,519.80 568.23,522.40 570.40,523.00 C572.57,523.60 574.87,524.15 578.20,526.10 C581.53,528.05 586.85,530.88 590.40,534.70 C593.95,538.52 596.47,545.08 599.50,549.00 C602.53,552.92 606.21,556.88 608.60,558.20 C610.99,559.52 612.12,556.47 613.85,556.90 C615.58,557.33 616.61,558.85 619.00,560.80 C621.39,562.75 625.80,566.00 628.20,568.60 C630.60,571.20 631.23,574.23 633.40,576.40 C635.57,578.57 638.82,581.90 641.20,581.60 C643.58,581.30 645.32,575.03 647.70,574.60 C650.08,574.17 652.47,578.13 655.50,579.00 C658.53,579.87 662.65,579.93 665.90,579.80 C669.15,579.67 671.08,577.90 675.00,578.20 C678.92,578.50 685.27,583.33 689.40,581.60 C693.53,579.87 696.55,570.83 699.80,567.80 C703.05,564.77 705.43,563.70 708.90,563.40 C712.37,563.10 717.48,565.35 720.60,566.00 C723.72,566.65 725.57,564.68 727.60,567.30 C729.63,569.92 731.07,574.97 732.80,581.70 C734.53,588.43 736.05,599.90 738.00,607.70 C739.95,615.50 742.33,623.28 744.50,628.50 C746.67,633.72 749.04,637.35 751.00,639.00 C752.96,640.65 754.28,639.93 756.25,638.40 C758.22,636.87 760.41,633.27 762.80,629.80 C765.19,626.33 768.22,618.03 770.60,617.60 C772.98,617.17 774.72,622.77 777.10,627.20 C779.48,631.63 781.95,638.85 784.90,644.20 C787.85,649.55 791.77,658.00 794.80,659.30 C797.83,660.60 800.42,654.88 803.10,652.00 C805.78,649.12 808.29,645.92 810.90,642.00 C813.51,638.08 815.70,632.70 818.75,628.50 C821.80,624.30 825.73,622.00 829.20,616.80 C832.68,611.60 835.70,602.93 839.60,597.30 C843.50,591.67 849.13,587.43 852.60,583.00 C856.07,578.57 857.97,574.20 860.40,570.70 C862.83,567.20 866.07,563.45 867.20,562.00" fill="none" stroke="#5aaef0" stroke-width="1.1" stroke-linejoin="round"/>
<path d="M0.00,721.80 C1.08,721.00 4.33,718.87 6.50,717.00 C8.67,715.13 10.40,712.97 13.00,710.60 C15.60,708.23 19.06,706.28 22.10,702.80 C25.14,699.32 28.43,694.05 31.25,689.70 C34.07,685.35 36.39,681.25 39.00,676.70 C41.61,672.15 44.07,666.95 46.90,662.40 C49.73,657.85 52.97,652.43 56.00,649.40 C59.03,646.37 61.85,645.07 65.10,644.20 C68.35,643.33 72.03,644.63 75.50,644.20 C78.97,643.77 82.42,642.25 85.90,641.60 C89.38,640.95 93.35,640.30 96.40,640.30 C99.45,640.30 101.60,641.73 104.20,641.60 C106.80,641.47 109.40,640.28 112.00,639.50 C114.60,638.72 116.77,637.77 119.80,636.90 C122.83,636.03 126.73,635.70 130.20,634.30 C133.67,632.90 137.30,630.67 140.60,628.50 C143.90,626.33 147.53,622.77 150.00,621.25 C152.47,619.73 152.77,620.36 155.40,619.40 C158.03,618.44 162.33,615.93 165.80,615.50 C169.28,615.07 172.77,616.58 176.25,616.80 C179.73,617.02 183.24,617.67 186.70,616.80 C190.16,615.93 193.53,614.42 197.00,611.60 C200.47,608.78 204.02,603.58 207.50,599.90 C210.98,596.22 214.43,593.07 217.90,589.50 C221.37,585.93 224.83,580.88 228.30,578.50 C231.78,576.12 235.27,576.41 238.75,575.20 C242.23,573.99 245.72,572.87 249.20,571.25 C252.67,569.63 256.57,566.49 259.60,565.50 C262.63,564.51 264.80,564.78 267.40,565.30 C270.00,565.82 272.17,567.17 275.20,568.60 C278.23,570.03 282.30,572.25 285.60,573.90 C288.90,575.55 292.53,577.42 295.00,578.50 C297.47,579.58 297.77,579.00 300.40,580.40 C303.03,581.80 307.32,585.03 310.80,586.90 C314.28,588.77 317.77,590.08 321.25,591.60 C324.73,593.12 328.24,594.62 331.70,596.00 C335.16,597.38 338.53,599.03 342.00,599.90 C345.47,600.77 349.02,600.77 352.50,601.20 C355.98,601.63 359.43,602.07 362.90,602.50 C366.37,602.93 369.82,602.85 373.30,603.80 C376.78,604.75 380.27,607.20 383.75,608.20 C387.23,609.20 390.72,609.80 394.20,609.80 C397.68,609.80 401.13,609.42 404.60,608.20 C408.07,606.98 411.53,603.67 415.00,602.50 C418.47,601.33 422.15,601.07 425.40,601.20 C428.65,601.33 431.17,604.83 434.50,603.30 C437.83,601.77 442.28,595.83 445.40,592.00 C448.52,588.17 450.60,583.77 453.20,580.30 C455.80,576.83 457.95,573.80 461.00,571.20 C464.05,568.60 468.02,566.43 471.50,564.70 C474.98,562.97 478.43,562.18 481.90,560.80 C485.37,559.42 488.83,557.70 492.30,556.40 C495.77,555.10 499.25,554.65 502.70,553.00 C506.15,551.35 509.53,548.12 513.00,546.50 C516.47,544.88 520.00,543.83 523.50,543.30 C527.00,542.77 530.52,543.55 534.00,543.30 C537.48,543.05 540.93,542.05 544.40,541.80 C547.87,541.55 551.33,542.98 554.80,541.80 C558.27,540.62 562.17,536.53 565.20,534.70 C568.23,532.87 569.70,531.67 573.00,530.80 C576.30,529.93 582.10,529.50 585.00,529.50 C587.90,529.50 587.98,529.72 590.40,530.80 C592.82,531.88 596.47,533.92 599.50,536.00 C602.53,538.08 605.35,541.13 608.60,543.30 C611.85,545.47 615.73,546.95 619.00,549.00 C622.27,551.05 624.50,552.63 628.20,555.60 C631.90,558.57 636.65,564.12 641.20,566.80 C645.75,569.48 650.95,570.32 655.50,571.70 C660.05,573.08 664.58,574.23 668.50,575.10 C672.42,575.97 675.52,576.38 679.00,576.90 C682.48,577.42 685.93,578.72 689.40,578.20 C692.87,577.68 696.33,575.18 699.80,573.80 C703.27,572.42 706.30,570.90 710.20,569.90 C714.10,568.90 719.43,567.57 723.20,567.80 C726.97,568.02 729.90,568.07 732.80,571.25 C735.70,574.43 738.00,582.11 740.60,586.90 C743.20,591.69 745.79,595.88 748.40,600.00 C751.01,604.12 753.65,608.80 756.25,611.60 C758.85,614.40 761.17,615.72 764.00,616.80 C766.83,617.88 770.15,616.80 773.20,618.10 C776.25,619.40 779.05,621.55 782.30,624.60 C785.55,627.65 789.23,633.35 792.70,636.40 C796.17,639.45 800.07,641.70 803.10,642.90 C806.13,644.10 807.86,644.47 810.90,643.60 C813.94,642.73 818.30,639.78 821.35,637.70 C824.40,635.62 826.16,633.93 829.20,631.10 C832.24,628.27 836.13,624.38 839.60,620.70 C843.07,617.02 846.53,613.12 850.00,609.00 C853.47,604.88 857.53,599.68 860.40,596.00 C863.27,592.32 866.07,588.42 867.20,586.90" fill="none" stroke="#f24d83" stroke-width="1.9" stroke-linejoin="round" stroke-linecap="round"/>
</g>
</svg>
<div style="position:absolute;left:0;top:23px;width:1024px;height:474px;overflow:hidden">
<div class="t" style="right:8px;top:449.5px;font-size:10px;color:#2f3241;font-weight:normal;transform:scaleX(0.88);transform-origin:100% 50%">138.000</div>
<div class="t" style="right:8px;top:411.75px;font-size:10px;color:#2f3241;font-weight:normal;transform:scaleX(0.88);transform-origin:100% 50%">140.000</div>
<div class="t" style="right:8px;top:374.0px;font-size:10px;color:#2f3241;font-weight:normal;transform:scaleX(0.88);transform-origin:100% 50%">142.000</div>
<div class="t" style="right:8px;top:336.25px;font-size:10px;color:#2f3241;font-weight:normal;transform:scaleX(0.88);transform-origin:100% 50%">144.000</div>
<div class="t" style="right:8px;top:298.5px;font-size:10px;color:#2f3241;font-weight:normal;transform:scaleX(0.88);transform-origin:100% 50%">146.000</div>
<div class="t" style="right:8px;top:260.75px;font-size:10px;color:#2f3241;font-weight:normal;transform:scaleX(0.88);transform-origin:100% 50%">148.000</div>
<div class="t" style="right:8px;top:223.0px;font-size:10px;color:#2f3241;font-weight:normal;transform:scaleX(0.88);transform-origin:100% 50%">150.000</div>
<div class="t" style="right:8px;top:147.5px;font-size:10px;color:#2f3241;font-weight:normal;transform:scaleX(0.88);transform-origin:100% 50%">154.000</div>
<div class="t" style="right:8px;top:72.0px;font-size:10px;color:#2f3241;font-weight:normal;transform:scaleX(0.88);transform-origin:100% 50%">158.000</div>
<div class="t" style="right:8px;top:34.25px;font-size:10px;color:#2f3241;font-weight:normal;transform:scaleX(0.88);transform-origin:100% 50%">160.000</div>
<div class="t" style="right:8px;top:-3.5px;font-size:10px;color:#2f3241;font-weight:normal;transform:scaleX(0.88);transform-origin:100% 50%">162.000</div>
</div>
<div style="position:absolute;left:0;top:498px;width:1024px;height:247px;overflow:hidden">
<div class="t" style="right:13px;top:-4.2000000000000455px;font-size:10px;color:#2f3241;font-weight:normal;transform:scaleX(0.88);transform-origin:100% 50%">2.000</div>
<div class="t" style="right:13px;top:25.049999999999955px;font-size:10px;color:#2f3241;font-weight:normal;transform:scaleX(0.88);transform-origin:100% 50%">1.500</div>
<div class="t" style="right:13px;top:54.299999999999955px;font-size:10px;color:#2f3241;font-weight:normal;transform:scaleX(0.88);transform-origin:100% 50%">1.000</div>
<div class="t" style="right:13px;top:112.79999999999995px;font-size:10px;color:#2f3241;font-weight:normal;transform:scaleX(0.88);transform-origin:100% 50%">0.000</div>
<div class="t" style="right:13px;top:142.04999999999995px;font-size:10px;color:#2f3241;font-weight:normal;transform:scaleX(0.88);transform-origin:100% 50%">−0.500</div>
<div class="t" style="right:13px;top:171.29999999999995px;font-size:10px;color:#2f3241;font-weight:normal;transform:scaleX(0.88);transform-origin:100% 50%">−1.000</div>
<div class="t" style="right:13px;top:200.54999999999995px;font-size:10px;color:#2f3241;font-weight:normal;transform:scaleX(0.88);transform-origin:100% 50%">−1.500</div>
<div class="t" style="right:13px;top:229.79999999999995px;font-size:10px;color:#2f3241;font-weight:normal;transform:scaleX(0.88);transform-origin:100% 50%">−2.000</div>
</div>
<div style="position:absolute;left:976px;top:50.7px;width:45px;height:13px;background:#2196f3;border-radius:0 2px 2px 0"></div>
<div class="t" style="right:8px;top:52.7px;font-size:10px;color:#fff;font-weight:normal;transform:scaleX(0.88);transform-origin:100% 50%">160.237</div>
<div style="position:absolute;left:976px;top:69.2px;width:45px;height:13px;background:#787878;border-radius:0 2px 2px 0"></div>
<div class="t" style="right:8px;top:71.2px;font-size:10px;color:#fff;font-weight:normal;transform:scaleX(0.88);transform-origin:100% 50%">159.289</div>
<div style="position:absolute;left:976px;top:97.9px;width:45px;height:13px;background:#f9b22c;border-radius:0 2px 2px 0"></div>
<div class="t" style="right:8px;top:99.9px;font-size:10px;color:#131722;font-weight:normal;transform:scaleX(0.88);transform-origin:100% 50%">157.772</div>
<div style="position:absolute;left:976px;top:125px;width:45px;height:13px;background:#e07b06;border-radius:0 2px 2px 0"></div>
<div class="t" style="right:8px;top:127.0px;font-size:10px;color:#fff;font-weight:normal;transform:scaleX(0.88);transform-origin:100% 50%">156.318</div>
<div style="position:absolute;left:976px;top:138.2px;width:45px;height:13.2px;background:#2ea0e6;border-radius:0 2px 2px 0"></div>
<div class="t" style="right:8px;top:140.2px;font-size:10px;color:#fff;font-weight:normal;transform:scaleX(0.88);transform-origin:100% 50%">156.047</div>
<div style="position:absolute;left:976px;top:209px;width:45px;height:13px;background:#2196f3;border-radius:0 2px 2px 0"></div>
<div class="t" style="right:8px;top:211.0px;font-size:10px;color:#fff;font-weight:normal;transform:scaleX(0.88);transform-origin:100% 50%">151.857</div>
<div style="position:absolute;left:976px;top:556px;width:35.5px;height:13.5px;background:#2196f3;border-radius:0 2px 2px 0"></div>
<div class="t" style="right:17.5px;top:558.0px;font-size:10px;color:#fff;font-weight:normal;transform:scaleX(0.88);transform-origin:100% 50%">0.906</div>
<div style="position:absolute;left:976px;top:569.8px;width:35.5px;height:13.5px;background:#f23d78;border-radius:0 2px 2px 0"></div>
<div class="t" style="right:17.5px;top:571.8px;font-size:10px;color:#fff;font-weight:normal;transform:scaleX(0.88);transform-origin:100% 50%">0.476</div>
<div style="position:absolute;left:976px;top:583.7px;width:35.5px;height:13.5px;background:#acdfd6;border-radius:0 2px 2px 0"></div>
<div class="t" style="right:17.5px;top:585.7px;font-size:10px;color:#131722;font-weight:normal;transform:scaleX(0.88);transform-origin:100% 50%">0.430</div>
<div class="t" style="left:-37.5px;width:100px;text-align:center;top:751.5px;font-size:9.8px;color:#2a2e39;font-weight:normal;transform:scaleX(0.9);">May</div>
<div class="t" style="left:43.5px;width:100px;text-align:center;top:751.5px;font-size:9.8px;color:#2a2e39;font-weight:normal;transform:scaleX(0.9);">Jun</div>
<div class="t" style="left:125.5px;width:100px;text-align:center;top:751.5px;font-size:9.8px;color:#2a2e39;font-weight:normal;transform:scaleX(0.9);">Jul</div>
<div class="t" style="left:216.5px;width:100px;text-align:center;top:751.5px;font-size:9.8px;color:#2a2e39;font-weight:normal;transform:scaleX(0.9);">Aug</div>
<div class="t" style="left:293px;width:100px;text-align:center;top:751.5px;font-size:9.8px;color:#2a2e39;font-weight:normal;transform:scaleX(0.9);">Sep</div>
<div class="t" style="left:380px;width:100px;text-align:center;top:751.5px;font-size:9.8px;color:#2a2e39;font-weight:normal;transform:scaleX(0.9);">Oct</div>
<div class="t" style="left:466px;width:100px;text-align:center;top:751.5px;font-size:9.8px;color:#2a2e39;font-weight:normal;transform:scaleX(0.9);">Nov</div>
<div class="t" style="left:542.5px;width:100px;text-align:center;top:751.5px;font-size:9.8px;color:#2a2e39;font-weight:normal;transform:scaleX(0.9);">Dec</div>
<div class="t" style="left:624px;width:100px;text-align:center;top:751.5px;font-size:9.8px;color:#2a2e39;font-weight:bold;transform:scaleX(0.9);">2026</div>
<div class="t" style="left:706px;width:100px;text-align:center;top:751.5px;font-size:9.8px;color:#2a2e39;font-weight:normal;transform:scaleX(0.9);">Feb</div>
<div class="t" style="left:783px;width:100px;text-align:center;top:751.5px;font-size:9.8px;color:#2a2e39;font-weight:normal;transform:scaleX(0.9);">Mar</div>
<div class="t" style="left:884px;width:100px;text-align:center;top:751.5px;font-size:9.8px;color:#2a2e39;font-weight:normal;transform:scaleX(0.9);">Apr</div>
<div class="t" style="left:8px;top:7.5px;font-size:9.6px;font-weight:bold;color:#131722">USDJPY 1D - 1uptick.com</div>
<div class="t" style="left:7.5px;top:27.5px;font-size:9.6px;color:#131722">BB <span style="color:#787b86">20 2</span></div>
<div class="t" style="left:54.5px;top:27.5px;font-size:9.6px;letter-spacing:0.35px;color:#42a5f5">156.047</div>
<div class="t" style="left:96.25px;top:27.5px;font-size:9.6px;letter-spacing:0.35px;color:#42a5f5">160.237</div>
<div class="t" style="left:138.75px;top:27.5px;font-size:9.6px;letter-spacing:0.35px;color:#42a5f5">151.857</div>
<div class="t" style="left:7.5px;top:47px;font-size:9.6px;color:#131722">MA <span style="color:#787b86">10 close 0 SMA 9</span></div>
<div class="t" style="left:111.25px;top:47px;font-size:9.6px;letter-spacing:0.35px;color:#f5b846">157.772</div>
<div class="t" style="left:7.5px;top:66px;font-size:9.6px;color:#131722">MA <span style="color:#787b86">50 close 0 SMA 9</span></div>
<div class="t" style="left:111.25px;top:66px;font-size:9.6px;letter-spacing:0.35px;color:#e08a2e">156.318</div>
<div class="t" style="left:7px;top:506px;font-size:9.6px;color:#131722">MACD <span style="color:#787b86;letter-spacing:0.15px">12 26 close 9</span></div>
<div class="t" style="left:108.5px;top:506px;font-size:9.6px;letter-spacing:0.4px;color:#acdfd6">0.430</div>
<div class="t" style="left:140px;top:506px;font-size:9.6px;letter-spacing:0.4px;color:#42a5f5">0.906</div>
<div class="t" style="left:171.2px;top:506px;font-size:9.6px;letter-spacing:0.4px;color:#f23d78">0.476</div>
<div style="position:absolute;left:7.5px;top:81.5px;width:21px;height:15px;border:1px solid #e0e3eb;border-radius:3px;background:#fff"></div>
<svg style="position:absolute;left:0;top:0" width="40" height="100"><path d="M15.5,91.5 L18.5,88.5 L21.5,91.5" fill="none" stroke="#131722" stroke-width="1.4"/></svg>
<svg style="position:absolute;left:0;top:700px" width="40" height="45"><circle cx="18.5" cy="27.9" r="13" fill="#fff" stroke="#ececec" stroke-width="1"/><path d="M10.2,24 h7.2 v8.6 h-3.4 v-5.7 h-3.8 z" fill="#131722"/><circle cx="20" cy="25.4" r="1.25" fill="#131722"/><path d="M23.2,24 h4.1 l-2.8,8.6 h-4.5 z" fill="#131722"/></svg>
<svg style="position:absolute;left:990px;top:747px" width="21" height="21"><circle cx="10.4" cy="10.3" r="3.65" fill="none" stroke="#2a2e39" stroke-width="1.15"/><path d="M16.50,10.30 L14.30,11.20 L14.30,9.40 Z" fill="#2a2e39"/><path d="M14.71,14.61 L12.52,13.69 L13.79,12.42 Z" fill="#2a2e39"/><path d="M10.40,16.40 L9.50,14.20 L11.30,14.20 Z" fill="#2a2e39"/><path d="M6.09,14.61 L7.01,12.42 L8.28,13.69 Z" fill="#2a2e39"/><path d="M4.30,10.30 L6.50,9.40 L6.50,11.20 Z" fill="#2a2e39"/><path d="M6.09,5.99 L8.28,6.91 L7.01,8.18 Z" fill="#2a2e39"/><path d="M10.40,4.20 L11.30,6.40 L9.50,6.40 Z" fill="#2a2e39"/><path d="M14.71,5.99 L13.79,8.18 L12.52,6.91 Z" fill="#2a2e39"/></svg>
</body></html>
